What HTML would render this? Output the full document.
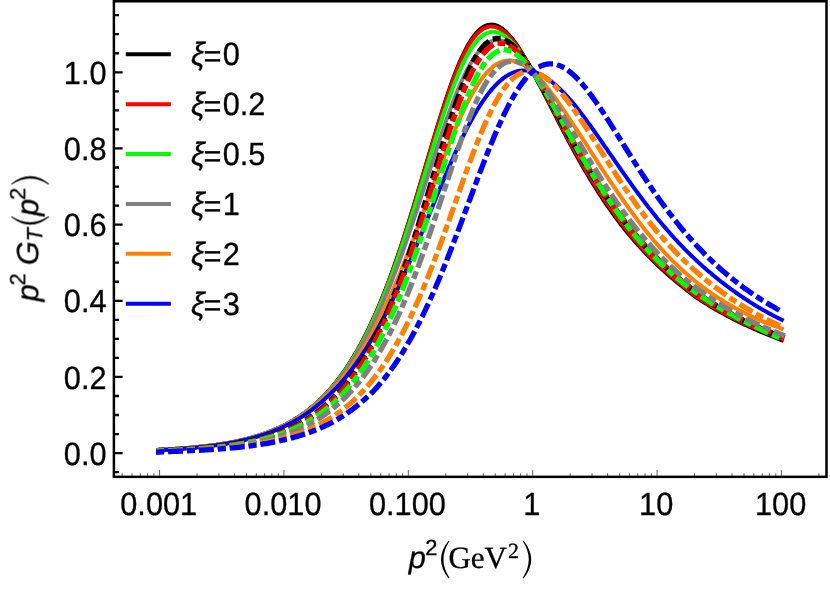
<!DOCTYPE html>
<html><head><meta charset="utf-8"><title>plot</title>
<style>html,body{margin:0;padding:0;background:#fff}svg{display:block}text{font-family:"Liberation Sans",sans-serif;fill:#000;stroke:#000;stroke-width:0.3px}.se{font-family:"Liberation Serif",serif}</style></head>
<body>
<svg width="830" height="589" viewBox="0 0 830 589">
<rect x="0" y="0" width="830" height="589" fill="#fff"/>
<g fill="none" stroke-linejoin="round">
<path d="M157.20 449.95 158.45 449.88 159.70 449.82 160.95 449.75 162.20 449.68 163.45 449.61 164.70 449.53 165.95 449.46 167.20 449.38 168.45 449.31 169.70 449.23 170.95 449.15 172.20 449.07 173.45 448.99 174.70 448.91 175.95 448.82 177.20 448.74 178.45 448.65 179.70 448.56 180.95 448.47 182.20 448.38 183.45 448.28 184.70 448.18 185.95 448.09 187.20 447.98 188.45 447.88 189.70 447.77 190.95 447.67 192.20 447.56 193.45 447.44 194.70 447.33 195.95 447.21 197.20 447.09 198.45 446.96 199.70 446.84 200.95 446.71 202.20 446.58 203.45 446.44 204.70 446.30 205.95 446.16 207.20 446.01 208.45 445.86 209.70 445.71 210.95 445.55 212.20 445.39 213.45 445.23 214.70 445.06 215.95 444.88 217.20 444.71 218.45 444.53 219.70 444.34 220.95 444.15 222.20 443.95 223.45 443.75 224.70 443.55 225.95 443.34 227.20 443.12 228.45 442.90 229.70 442.68 230.95 442.45 232.20 442.21 233.45 441.97 234.70 441.72 235.95 441.46 237.20 441.20 238.45 440.93 239.70 440.66 240.95 440.37 242.20 440.09 243.45 439.79 244.70 439.49 245.95 439.18 247.20 438.86 248.45 438.53 249.70 438.20 250.95 437.86 252.20 437.51 253.45 437.15 254.70 436.78 255.95 436.41 257.20 436.03 258.45 435.64 259.70 435.24 260.95 434.84 262.20 434.42 263.45 434.00 264.70 433.56 265.95 433.12 267.20 432.66 268.45 432.20 269.70 431.72 270.95 431.24 272.20 430.74 273.45 430.23 274.70 429.71 275.95 429.18 277.20 428.63 278.45 428.07 279.70 427.50 280.95 426.92 282.20 426.32 283.45 425.71 284.70 425.08 285.95 424.44 287.20 423.78 288.45 423.10 289.70 422.41 290.95 421.71 292.20 420.98 293.45 420.24 294.70 419.48 295.95 418.70 297.20 417.91 298.45 417.09 299.70 416.26 300.95 415.41 302.20 414.54 303.45 413.66 304.70 412.75 305.95 411.82 307.20 410.88 308.45 409.91 309.70 408.92 310.95 407.91 312.20 406.88 313.45 405.82 314.70 404.75 315.95 403.64 317.20 402.52 318.45 401.37 319.70 400.19 320.95 398.98 322.20 397.75 323.45 396.49 324.70 395.20 325.95 393.88 327.20 392.53 328.45 391.15 329.70 389.74 330.95 388.30 332.20 386.84 333.45 385.34 334.70 383.81 335.95 382.25 337.20 380.66 338.45 379.04 339.70 377.38 340.95 375.69 342.20 373.96 343.45 372.20 344.70 370.41 345.95 368.58 347.20 366.71 348.45 364.81 349.70 362.87 350.95 360.89 352.20 358.88 353.45 356.82 354.70 354.73 355.95 352.59 357.20 350.42 358.45 348.20 359.70 345.95 360.95 343.65 362.20 341.31 363.45 338.93 364.70 336.50 365.95 334.03 367.20 331.52 368.45 328.97 369.70 326.37 370.95 323.72 372.20 321.03 373.45 318.30 374.70 315.52 375.95 312.69 377.20 309.82 378.45 306.91 379.70 303.95 380.95 300.94 382.20 297.88 383.45 294.78 384.70 291.64 385.95 288.44 387.20 285.19 388.45 281.90 389.70 278.56 390.95 275.16 392.20 271.72 393.45 268.23 394.70 264.70 395.95 261.12 397.20 257.49 398.45 253.82 399.70 250.10 400.95 246.34 402.20 242.54 403.45 238.70 404.70 234.82 405.95 230.91 407.20 226.96 408.45 222.97 409.70 218.96 410.95 214.91 412.20 210.84 413.45 206.75 414.70 202.63 415.95 198.49 417.20 194.34 418.45 190.17 419.70 185.98 420.95 181.77 422.20 177.56 423.45 173.33 424.70 169.10 425.95 164.86 427.20 160.63 428.45 156.39 429.70 152.16 430.95 147.95 432.20 143.74 433.45 139.55 434.70 135.39 435.95 131.24 437.20 127.13 438.45 123.04 439.70 118.99 440.95 114.98 442.20 111.02 443.45 107.10 444.70 103.23 445.95 99.41 447.20 95.65 448.45 91.96 449.70 88.33 450.95 84.77 452.20 81.29 453.45 77.88 454.70 74.56 455.95 71.32 457.20 68.17 458.45 65.11 459.70 62.15 460.95 59.29 462.20 56.52 463.45 53.87 464.70 51.31 465.95 48.87 467.20 46.54 468.45 44.32 469.70 42.21 470.95 40.22 472.20 38.34 473.45 36.59 474.70 34.95 475.95 33.44 477.20 32.04 478.45 30.77 479.70 29.62 480.95 28.58 482.20 27.67 483.45 26.88 484.70 26.21 485.95 25.66 487.20 25.23 488.45 24.91 489.70 24.71 490.95 24.62 492.20 24.65 493.45 24.79 494.70 25.04 495.95 25.39 497.20 25.85 498.45 26.42 499.70 27.09 500.95 27.85 502.20 28.71 503.45 29.67 504.70 30.72 505.95 31.85 507.20 33.07 508.45 34.38 509.70 35.76 510.95 37.23 512.20 38.76 513.45 40.37 514.70 42.04 515.95 43.78 517.20 45.59 518.45 47.45 519.70 49.36 520.95 51.33 522.20 53.35 523.45 55.42 524.70 57.53 525.95 59.68 527.20 61.87 528.45 64.09 529.70 66.35 530.95 68.64 532.20 70.95 533.45 73.28 534.70 75.63 535.95 77.99 537.20 80.36 538.45 82.73 539.70 85.11 540.95 87.50 542.20 89.90 543.45 92.30 544.70 94.71 545.95 97.12 547.20 99.54 548.45 101.97 549.70 104.41 550.95 106.85 552.20 109.30 553.45 111.75 554.70 114.21 555.95 116.66 557.20 119.10 558.45 121.54 559.70 123.97 560.95 126.40 562.20 128.81 563.45 131.22 564.70 133.62 565.95 136.00 567.20 138.38 568.45 140.74 569.70 143.08 570.95 145.42 572.20 147.74 573.45 150.04 574.70 152.33 575.95 154.60 577.20 156.85 578.45 159.08 579.70 161.30 580.95 163.50 582.20 165.68 583.45 167.84 584.70 169.98 585.95 172.11 587.20 174.22 588.45 176.31 589.70 178.38 590.95 180.44 592.20 182.48 593.45 184.50 594.70 186.50 595.95 188.49 597.20 190.46 598.45 192.41 599.70 194.34 600.95 196.26 602.20 198.16 603.45 200.05 604.70 201.91 605.95 203.76 607.20 205.58 608.45 207.39 609.70 209.18 610.95 210.94 612.20 212.69 613.45 214.42 614.70 216.13 615.95 217.83 617.20 219.50 618.45 221.16 619.70 222.80 620.95 224.42 622.20 226.02 623.45 227.61 624.70 229.18 625.95 230.73 627.20 232.27 628.45 233.79 629.70 235.30 630.95 236.78 632.20 238.26 633.45 239.71 634.70 241.16 635.95 242.58 637.20 244.00 638.45 245.40 639.70 246.78 640.95 248.15 642.20 249.51 643.45 250.85 644.70 252.18 645.95 253.50 647.20 254.80 648.45 256.09 649.70 257.36 650.95 258.63 652.20 259.88 653.45 261.12 654.70 262.34 655.95 263.56 657.20 264.76 658.45 265.95 659.70 267.12 660.95 268.29 662.20 269.44 663.45 270.59 664.70 271.72 665.95 272.84 667.20 273.95 668.45 275.05 669.70 276.14 670.95 277.21 672.20 278.28 673.45 279.34 674.70 280.39 675.95 281.42 677.20 282.45 678.45 283.47 679.70 284.48 680.95 285.47 682.20 286.46 683.45 287.44 684.70 288.42 685.95 289.38 687.20 290.33 688.45 291.29 689.70 292.29 690.95 293.33 692.20 294.36 693.45 295.35 694.70 296.28 695.95 297.15 697.20 297.99 698.45 298.82 699.70 299.65 700.95 300.46 702.20 301.27 703.45 302.07 704.70 302.86 705.95 303.65 707.20 304.42 708.45 305.19 709.70 305.95 710.95 306.71 712.20 307.45 713.45 308.19 714.70 308.92 715.95 309.65 717.20 310.37 718.45 311.08 719.70 311.78 720.95 312.48 722.20 313.17 723.45 313.86 724.70 314.54 725.95 315.21 727.20 315.88 728.45 316.54 729.70 317.19 730.95 317.84 732.20 318.49 733.45 319.13 734.70 319.76 735.95 320.39 737.20 321.01 738.45 321.62 739.70 322.23 740.95 322.84 742.20 323.44 743.45 324.04 744.70 324.63 745.95 325.21 747.20 325.80 748.45 326.37 749.70 326.95 750.95 327.51 752.20 328.07 753.45 328.63 754.70 329.18 755.95 329.73 757.20 330.27 758.45 330.81 759.70 331.34 760.95 331.87 762.20 332.39 763.45 332.91 764.70 333.42 765.95 333.93 767.20 334.44 768.45 334.94 769.70 335.44 770.95 335.94 772.20 336.43 773.45 336.92 774.70 337.41 775.95 337.89 777.20 338.37 778.45 338.85 779.70 339.33 780.95 339.80 782.20 340.27 783.45 340.74 783.60 340.80" stroke="#000000" stroke-width="4"/>
<path d="M157.20 449.95 158.45 449.88 159.70 449.82 160.95 449.75 162.20 449.68 163.45 449.61 164.70 449.54 165.95 449.47 167.20 449.40 168.45 449.32 169.70 449.25 170.95 449.17 172.20 449.09 173.45 449.01 174.70 448.93 175.95 448.84 177.20 448.76 178.45 448.67 179.70 448.58 180.95 448.49 182.20 448.40 183.45 448.30 184.70 448.21 185.95 448.11 187.20 448.01 188.45 447.90 189.70 447.80 190.95 447.69 192.20 447.58 193.45 447.47 194.70 447.35 195.95 447.23 197.20 447.11 198.45 446.99 199.70 446.86 200.95 446.73 202.20 446.59 203.45 446.46 204.70 446.32 205.95 446.18 207.20 446.03 208.45 445.88 209.70 445.72 210.95 445.57 212.20 445.41 213.45 445.24 214.70 445.07 215.95 444.90 217.20 444.72 218.45 444.54 219.70 444.35 220.95 444.16 222.20 443.97 223.45 443.77 224.70 443.56 225.95 443.35 227.20 443.13 228.45 442.91 229.70 442.69 230.95 442.46 232.20 442.22 233.45 441.98 234.70 441.73 235.95 441.47 237.20 441.21 238.45 440.94 239.70 440.67 240.95 440.39 242.20 440.10 243.45 439.80 244.70 439.50 245.95 439.19 247.20 438.88 248.45 438.55 249.70 438.22 250.95 437.88 252.20 437.53 253.45 437.17 254.70 436.81 255.95 436.44 257.20 436.05 258.45 435.66 259.70 435.27 260.95 434.86 262.20 434.44 263.45 434.02 264.70 433.58 265.95 433.13 267.20 432.68 268.45 432.21 269.70 431.73 270.95 431.25 272.20 430.75 273.45 430.24 274.70 429.72 275.95 429.18 277.20 428.63 278.45 428.08 279.70 427.50 280.95 426.92 282.20 426.32 283.45 425.71 284.70 425.08 285.95 424.44 287.20 423.78 288.45 423.11 289.70 422.42 290.95 421.72 292.20 421.00 293.45 420.27 294.70 419.51 295.95 418.74 297.20 417.96 298.45 417.15 299.70 416.33 300.95 415.49 302.20 414.63 303.45 413.75 304.70 412.85 305.95 411.93 307.20 410.99 308.45 410.03 309.70 409.05 310.95 408.05 312.20 407.02 313.45 405.98 314.70 404.91 315.95 403.82 317.20 402.70 318.45 401.55 319.70 400.39 320.95 399.19 322.20 397.97 323.45 396.72 324.70 395.44 325.95 394.13 327.20 392.79 328.45 391.43 329.70 390.04 330.95 388.61 332.20 387.16 333.45 385.67 334.70 384.16 335.95 382.61 337.20 381.04 338.45 379.42 339.70 377.78 340.95 376.10 342.20 374.39 343.45 372.64 344.70 370.86 345.95 369.04 347.20 367.19 348.45 365.29 349.70 363.36 350.95 361.40 352.20 359.39 353.45 357.35 354.70 355.26 355.95 353.13 357.20 350.97 358.45 348.76 359.70 346.51 360.95 344.22 362.20 341.89 363.45 339.51 364.70 337.09 365.95 334.62 367.20 332.11 368.45 329.56 369.70 326.96 370.95 324.32 372.20 321.63 373.45 318.89 374.70 316.11 375.95 313.28 377.20 310.40 378.45 307.48 379.70 304.51 380.95 301.49 382.20 298.43 383.45 295.32 384.70 292.16 385.95 288.95 387.20 285.70 388.45 282.40 389.70 279.05 390.95 275.65 392.20 272.20 393.45 268.71 394.70 265.18 395.95 261.60 397.20 257.97 398.45 254.30 399.70 250.59 400.95 246.84 402.20 243.05 403.45 239.21 404.70 235.34 405.95 231.44 407.20 227.49 408.45 223.52 409.70 219.51 410.95 215.48 412.20 211.41 413.45 207.33 414.70 203.21 415.95 199.08 417.20 194.93 418.45 190.76 419.70 186.58 420.95 182.39 422.20 178.18 423.45 173.97 424.70 169.75 425.95 165.53 427.20 161.31 428.45 157.10 429.70 152.90 430.95 148.70 432.20 144.52 433.45 140.36 434.70 136.22 435.95 132.10 437.20 128.02 438.45 123.96 439.70 119.94 440.95 115.96 442.20 112.03 443.45 108.14 444.70 104.30 445.95 100.51 447.20 96.79 448.45 93.12 449.70 89.52 450.95 85.99 452.20 82.54 453.45 79.16 454.70 75.87 455.95 72.66 457.20 69.54 458.45 66.52 459.70 63.59 460.95 60.76 462.20 58.02 463.45 55.40 464.70 52.88 465.95 50.46 467.20 48.16 468.45 45.97 469.70 43.89 470.95 41.93 472.20 40.09 473.45 38.36 474.70 36.74 475.95 35.25 477.20 33.87 478.45 32.62 479.70 31.48 480.95 30.46 482.20 29.56 483.45 28.78 484.70 28.11 485.95 27.56 487.20 27.13 488.45 26.81 489.70 26.60 490.95 26.50 492.20 26.52 493.45 26.64 494.70 26.86 495.95 27.20 497.20 27.63 498.45 28.16 499.70 28.80 500.95 29.52 502.20 30.34 503.45 31.25 504.70 32.25 505.95 33.34 507.20 34.51 508.45 35.75 509.70 37.08 510.95 38.48 512.20 39.95 513.45 41.49 514.70 43.10 515.95 44.77 517.20 46.50 518.45 48.29 519.70 50.13 520.95 52.02 522.20 53.96 523.45 55.95 524.70 57.98 525.95 60.06 527.20 62.17 528.45 64.31 529.70 66.49 530.95 68.70 532.20 70.93 533.45 73.19 534.70 75.46 535.95 77.75 537.20 80.04 538.45 82.34 539.70 84.65 540.95 86.97 542.20 89.30 543.45 91.63 544.70 93.97 545.95 96.32 547.20 98.68 548.45 101.04 549.70 103.41 550.95 105.79 552.20 108.18 553.45 110.58 554.70 112.97 555.95 115.37 557.20 117.76 558.45 120.14 559.70 122.52 560.95 124.90 562.20 127.27 563.45 129.63 564.70 131.98 565.95 134.33 567.20 136.66 568.45 138.98 569.70 141.29 570.95 143.59 572.20 145.88 573.45 148.15 574.70 150.41 575.95 152.65 577.20 154.88 578.45 157.09 579.70 159.29 580.95 161.46 582.20 163.63 583.45 165.77 584.70 167.90 585.95 170.02 587.20 172.11 588.45 174.19 589.70 176.26 590.95 178.31 592.20 180.34 593.45 182.36 594.70 184.36 595.95 186.34 597.20 188.31 598.45 190.26 599.70 192.20 600.95 194.12 602.20 196.02 603.45 197.91 604.70 199.78 605.95 201.63 607.20 203.46 608.45 205.28 609.70 207.08 610.95 208.85 612.20 210.61 613.45 212.35 614.70 214.08 615.95 215.78 617.20 217.47 618.45 219.14 619.70 220.80 620.95 222.43 622.20 224.05 623.45 225.66 624.70 227.24 625.95 228.81 627.20 230.37 628.45 231.91 629.70 233.43 630.95 234.93 632.20 236.43 633.45 237.90 634.70 239.36 635.95 240.81 637.20 242.24 638.45 243.66 639.70 245.06 640.95 246.45 642.20 247.83 643.45 249.19 644.70 250.54 645.95 251.87 647.20 253.19 648.45 254.50 649.70 255.80 650.95 257.08 652.20 258.35 653.45 259.60 654.70 260.85 655.95 262.08 657.20 263.30 658.45 264.50 659.70 265.70 660.95 266.88 662.20 268.05 663.45 269.21 664.70 270.36 665.95 271.50 667.20 272.62 668.45 273.74 669.70 274.84 670.95 275.93 672.20 277.01 673.45 278.09 674.70 279.15 675.95 280.20 677.20 281.24 678.45 282.27 679.70 283.29 680.95 284.30 682.20 285.30 683.45 286.29 684.70 287.27 685.95 288.24 687.20 289.21 688.45 290.17 689.70 291.19 690.95 292.23 692.20 293.27 693.45 294.27 694.70 295.21 695.95 296.08 697.20 296.93 698.45 297.77 699.70 298.60 700.95 299.42 702.20 300.23 703.45 301.04 704.70 301.83 705.95 302.62 707.20 303.40 708.45 304.17 709.70 304.93 710.95 305.69 712.20 306.44 713.45 307.18 714.70 307.91 715.95 308.64 717.20 309.35 718.45 310.07 719.70 310.77 720.95 311.47 722.20 312.16 723.45 312.84 724.70 313.52 725.95 314.19 727.20 314.85 728.45 315.51 729.70 316.16 730.95 316.81 732.20 317.45 733.45 318.08 734.70 318.71 735.95 319.33 737.20 319.95 738.45 320.56 739.70 321.16 740.95 321.76 742.20 322.36 743.45 322.95 744.70 323.53 745.95 324.11 747.20 324.68 748.45 325.25 749.70 325.81 750.95 326.37 752.20 326.93 753.45 327.47 754.70 328.01 755.95 328.55 757.20 329.08 758.45 329.61 759.70 330.13 760.95 330.65 762.20 331.16 763.45 331.67 764.70 332.17 765.95 332.67 767.20 333.16 768.45 333.65 769.70 334.14 770.95 334.63 772.20 335.11 773.45 335.58 774.70 336.06 775.95 336.53 777.20 336.99 778.45 337.46 779.70 337.92 780.95 338.38 782.20 338.84 783.45 339.29 783.60 339.35" stroke="#ff0000" stroke-width="4"/>
<path d="M157.20 449.95 158.45 449.88 159.70 449.82 160.95 449.75 162.20 449.68 163.45 449.61 164.70 449.54 165.95 449.47 167.20 449.39 168.45 449.32 169.70 449.24 170.95 449.17 172.20 449.09 173.45 449.01 174.70 448.92 175.95 448.84 177.20 448.76 178.45 448.67 179.70 448.58 180.95 448.49 182.20 448.39 183.45 448.30 184.70 448.20 185.95 448.10 187.20 448.00 188.45 447.90 189.70 447.79 190.95 447.68 192.20 447.57 193.45 447.46 194.70 447.34 195.95 447.22 197.20 447.10 198.45 446.98 199.70 446.85 200.95 446.72 202.20 446.59 203.45 446.45 204.70 446.31 205.95 446.17 207.20 446.02 208.45 445.87 209.70 445.71 210.95 445.56 212.20 445.40 213.45 445.23 214.70 445.06 215.95 444.89 217.20 444.71 218.45 444.53 219.70 444.34 220.95 444.15 222.20 443.95 223.45 443.75 224.70 443.55 225.95 443.33 227.20 443.12 228.45 442.90 229.70 442.67 230.95 442.44 232.20 442.20 233.45 441.96 234.70 441.71 235.95 441.45 237.20 441.19 238.45 440.92 239.70 440.65 240.95 440.37 242.20 440.08 243.45 439.78 244.70 439.48 245.95 439.17 247.20 438.85 248.45 438.53 249.70 438.19 250.95 437.85 252.20 437.50 253.45 437.15 254.70 436.78 255.95 436.41 257.20 436.03 258.45 435.64 259.70 435.24 260.95 434.83 262.20 434.41 263.45 433.99 264.70 433.55 265.95 433.10 267.20 432.65 268.45 432.18 269.70 431.70 270.95 431.22 272.20 430.72 273.45 430.21 274.70 429.69 275.95 429.15 277.20 428.61 278.45 428.05 279.70 427.48 280.95 426.89 282.20 426.29 283.45 425.68 284.70 425.06 285.95 424.42 287.20 423.76 288.45 423.09 289.70 422.41 290.95 421.71 292.20 420.99 293.45 420.26 294.70 419.51 295.95 418.74 297.20 417.96 298.45 417.16 299.70 416.34 300.95 415.50 302.20 414.64 303.45 413.76 304.70 412.87 305.95 411.95 307.20 411.01 308.45 410.06 309.70 409.08 310.95 408.08 312.20 407.06 313.45 406.01 314.70 404.95 315.95 403.86 317.20 402.74 318.45 401.61 319.70 400.44 320.95 399.25 322.20 398.04 323.45 396.80 324.70 395.53 325.95 394.23 327.20 392.91 328.45 391.55 329.70 390.17 330.95 388.76 332.20 387.32 333.45 385.85 334.70 384.35 335.95 382.82 337.20 381.26 338.45 379.67 339.70 378.04 340.95 376.38 342.20 374.69 343.45 372.96 344.70 371.20 345.95 369.40 347.20 367.57 348.45 365.70 349.70 363.80 350.95 361.86 352.20 359.88 353.45 357.86 354.70 355.80 355.95 353.71 357.20 351.57 358.45 349.39 359.70 347.18 360.95 344.92 362.20 342.62 363.45 340.28 364.70 337.90 365.95 335.47 367.20 333.00 368.45 330.49 369.70 327.93 370.95 325.33 372.20 322.69 373.45 320.00 374.70 317.26 375.95 314.48 377.20 311.66 378.45 308.79 379.70 305.88 380.95 302.92 382.20 299.91 383.45 296.86 384.70 293.77 385.95 290.62 387.20 287.43 388.45 284.20 389.70 280.92 390.95 277.59 392.20 274.21 393.45 270.79 394.70 267.33 395.95 263.82 397.20 260.27 398.45 256.68 399.70 253.04 400.95 249.37 402.20 245.66 403.45 241.91 404.70 238.13 405.95 234.31 407.20 230.46 408.45 226.57 409.70 222.66 410.95 218.73 412.20 214.76 413.45 210.78 414.70 206.78 415.95 202.75 417.20 198.72 418.45 194.67 419.70 190.61 420.95 186.54 422.20 182.46 423.45 178.39 424.70 174.30 425.95 170.22 427.20 166.14 428.45 162.07 429.70 158.00 430.95 153.95 432.20 149.91 433.45 145.89 434.70 141.88 435.95 137.90 437.20 133.94 438.45 130.01 439.70 126.12 440.95 122.26 442.20 118.43 443.45 114.65 444.70 110.92 445.95 107.23 447.20 103.59 448.45 100.01 449.70 96.49 450.95 93.03 452.20 89.64 453.45 86.32 454.70 83.07 455.95 79.91 457.20 76.82 458.45 73.82 459.70 70.90 460.95 68.08 462.20 65.35 463.45 62.71 464.70 60.17 465.95 57.74 467.20 55.40 468.45 53.18 469.70 51.05 470.95 49.04 472.20 47.13 473.45 45.34 474.70 43.66 475.95 42.08 477.20 40.62 478.45 39.28 479.70 38.05 480.95 36.93 482.20 35.92 483.45 35.03 484.70 34.24 485.95 33.57 487.20 33.02 488.45 32.57 489.70 32.23 490.95 31.99 492.20 31.87 493.45 31.85 494.70 31.93 495.95 32.11 497.20 32.39 498.45 32.77 499.70 33.24 500.95 33.81 502.20 34.47 503.45 35.21 504.70 36.05 505.95 36.96 507.20 37.96 508.45 39.04 509.70 40.19 510.95 41.42 512.20 42.72 513.45 44.08 514.70 45.52 515.95 47.01 517.20 48.57 518.45 50.18 519.70 51.85 520.95 53.57 522.20 55.34 523.45 57.15 524.70 59.01 525.95 60.92 527.20 62.86 528.45 64.84 529.70 66.85 530.95 68.90 532.20 70.97 533.45 73.07 534.70 75.19 535.95 77.32 537.20 79.46 538.45 81.61 539.70 83.77 540.95 85.95 542.20 88.13 543.45 90.32 544.70 92.52 545.95 94.73 547.20 96.96 548.45 99.19 549.70 101.43 550.95 103.68 552.20 105.94 553.45 108.21 554.70 110.48 555.95 112.76 557.20 115.03 558.45 117.30 559.70 119.57 560.95 121.84 562.20 124.11 563.45 126.36 564.70 128.62 565.95 130.87 567.20 133.11 568.45 135.34 569.70 137.56 570.95 139.78 572.20 141.98 573.45 144.17 574.70 146.36 575.95 148.53 577.20 150.68 578.45 152.83 579.70 154.96 580.95 157.07 582.20 159.18 583.45 161.27 584.70 163.34 585.95 165.41 587.20 167.46 588.45 169.49 589.70 171.51 590.95 173.52 592.20 175.51 593.45 177.50 594.70 179.46 595.95 181.42 597.20 183.35 598.45 185.28 599.70 187.19 600.95 189.09 602.20 190.98 603.45 192.85 604.70 194.70 605.95 196.54 607.20 198.36 608.45 200.17 609.70 201.96 610.95 203.73 612.20 205.49 613.45 207.23 614.70 208.95 615.95 210.66 617.20 212.35 618.45 214.02 619.70 215.68 620.95 217.33 622.20 218.96 623.45 220.57 624.70 222.17 625.95 223.75 627.20 225.32 628.45 226.88 629.70 228.42 630.95 229.94 632.20 231.45 633.45 232.95 634.70 234.43 635.95 235.90 637.20 237.35 638.45 238.79 639.70 240.22 640.95 241.64 642.20 243.04 643.45 244.43 644.70 245.80 645.95 247.16 647.20 248.51 648.45 249.85 649.70 251.18 650.95 252.49 652.20 253.79 653.45 255.08 654.70 256.35 655.95 257.61 657.20 258.87 658.45 260.10 659.70 261.33 660.95 262.55 662.20 263.75 663.45 264.95 664.70 266.13 665.95 267.30 667.20 268.46 668.45 269.61 669.70 270.75 670.95 271.87 672.20 272.99 673.45 274.09 674.70 275.19 675.95 276.28 677.20 277.35 678.45 278.42 679.70 279.47 680.95 280.52 682.20 281.55 683.45 282.58 684.70 283.59 685.95 284.60 687.20 285.60 688.45 286.60 689.70 287.65 690.95 288.73 692.20 289.80 693.45 290.84 694.70 291.82 695.95 292.72 697.20 293.60 698.45 294.47 699.70 295.33 700.95 296.19 702.20 297.03 703.45 297.87 704.70 298.70 705.95 299.52 707.20 300.33 708.45 301.13 709.70 301.92 710.95 302.71 712.20 303.49 713.45 304.26 714.70 305.02 715.95 305.78 717.20 306.53 718.45 307.27 719.70 308.00 720.95 308.73 722.20 309.45 723.45 310.16 724.70 310.87 725.95 311.56 727.20 312.26 728.45 312.94 729.70 313.62 730.95 314.30 732.20 314.96 733.45 315.62 734.70 316.28 735.95 316.93 737.20 317.57 738.45 318.21 739.70 318.84 740.95 319.46 742.20 320.08 743.45 320.70 744.70 321.31 745.95 321.91 747.20 322.51 748.45 323.10 749.70 323.69 750.95 324.27 752.20 324.85 753.45 325.42 754.70 325.99 755.95 326.55 757.20 327.10 758.45 327.65 759.70 328.20 760.95 328.74 762.20 329.27 763.45 329.80 764.70 330.33 765.95 330.85 767.20 331.37 768.45 331.88 769.70 332.39 770.95 332.89 772.20 333.39 773.45 333.89 774.70 334.39 775.95 334.88 777.20 335.37 778.45 335.85 779.70 336.34 780.95 336.82 782.20 337.29 783.45 337.77 783.60 337.83" stroke="#00ff00" stroke-width="4"/>
<path d="M157.20 449.95 158.45 449.88 159.70 449.82 160.95 449.75 162.20 449.68 163.45 449.61 164.70 449.54 165.95 449.47 167.20 449.39 168.45 449.32 169.70 449.24 170.95 449.16 172.20 449.08 173.45 449.00 174.70 448.92 175.95 448.84 177.20 448.75 178.45 448.66 179.70 448.57 180.95 448.48 182.20 448.39 183.45 448.29 184.70 448.20 185.95 448.10 187.20 448.00 188.45 447.89 189.70 447.79 190.95 447.68 192.20 447.57 193.45 447.45 194.70 447.34 195.95 447.22 197.20 447.09 198.45 446.97 199.70 446.84 200.95 446.71 202.20 446.58 203.45 446.44 204.70 446.30 205.95 446.16 207.20 446.01 208.45 445.86 209.70 445.70 210.95 445.55 212.20 445.38 213.45 445.22 214.70 445.05 215.95 444.87 217.20 444.70 218.45 444.51 219.70 444.33 220.95 444.13 222.20 443.94 223.45 443.74 224.70 443.53 225.95 443.32 227.20 443.10 228.45 442.88 229.70 442.66 230.95 442.42 232.20 442.19 233.45 441.94 234.70 441.69 235.95 441.44 237.20 441.17 238.45 440.91 239.70 440.63 240.95 440.35 242.20 440.06 243.45 439.77 244.70 439.46 245.95 439.15 247.20 438.84 248.45 438.51 249.70 438.18 250.95 437.84 252.20 437.49 253.45 437.13 254.70 436.77 255.95 436.40 257.20 436.01 258.45 435.62 259.70 435.23 260.95 434.82 262.20 434.40 263.45 433.98 264.70 433.54 265.95 433.10 267.20 432.64 268.45 432.18 269.70 431.70 270.95 431.21 272.20 430.72 273.45 430.21 274.70 429.69 275.95 429.16 277.20 428.61 278.45 428.06 279.70 427.49 280.95 426.90 282.20 426.31 283.45 425.70 284.70 425.08 285.95 424.45 287.20 423.80 288.45 423.13 289.70 422.45 290.95 421.76 292.20 421.05 293.45 420.32 294.70 419.58 295.95 418.82 297.20 418.04 298.45 417.25 299.70 416.44 300.95 415.61 302.20 414.76 303.45 413.90 304.70 413.01 305.95 412.11 307.20 411.19 308.45 410.24 309.70 409.28 310.95 408.30 312.20 407.29 313.45 406.27 314.70 405.22 315.95 404.15 317.20 403.06 318.45 401.94 319.70 400.80 320.95 399.64 322.20 398.45 323.45 397.23 324.70 395.99 325.95 394.72 327.20 393.43 328.45 392.11 329.70 390.76 330.95 389.39 332.20 387.98 333.45 386.55 334.70 385.09 335.95 383.61 337.20 382.09 338.45 380.54 339.70 378.97 340.95 377.36 342.20 375.72 343.45 374.05 344.70 372.34 345.95 370.61 347.20 368.84 348.45 367.04 349.70 365.20 350.95 363.33 352.20 361.42 353.45 359.48 354.70 357.51 355.95 355.49 357.20 353.44 358.45 351.36 359.70 349.24 360.95 347.08 362.20 344.88 363.45 342.64 364.70 340.36 365.95 338.05 367.20 335.70 368.45 333.30 369.70 330.87 370.95 328.40 372.20 325.88 373.45 323.33 374.70 320.74 375.95 318.10 377.20 315.43 378.45 312.71 379.70 309.95 380.95 307.15 382.20 304.31 383.45 301.43 384.70 298.51 385.95 295.55 387.20 292.54 388.45 289.49 389.70 286.40 390.95 283.27 392.20 280.10 393.45 276.88 394.70 273.63 395.95 270.33 397.20 266.99 398.45 263.62 399.70 260.20 400.95 256.75 402.20 253.27 403.45 249.74 404.70 246.18 405.95 242.59 407.20 238.97 408.45 235.32 409.70 231.64 410.95 227.93 412.20 224.19 413.45 220.44 414.70 216.66 415.95 212.86 417.20 209.04 418.45 205.21 419.70 201.37 420.95 197.51 422.20 193.65 423.45 189.77 424.70 185.89 425.95 182.00 427.20 178.11 428.45 174.22 429.70 170.33 430.95 166.45 432.20 162.58 433.45 158.71 434.70 154.86 435.95 151.03 437.20 147.22 438.45 143.44 439.70 139.68 440.95 135.95 442.20 132.25 443.45 128.59 444.70 124.97 445.95 121.40 447.20 117.86 448.45 114.38 449.70 110.95 450.95 107.57 452.20 104.25 453.45 100.99 454.70 97.78 455.95 94.64 457.20 91.57 458.45 88.57 459.70 85.63 460.95 82.78 462.20 80.00 463.45 77.29 464.70 74.67 465.95 72.14 467.20 69.69 468.45 67.33 469.70 65.06 470.95 62.88 472.20 60.79 473.45 58.80 474.70 56.91 475.95 55.11 477.20 53.42 478.45 51.82 479.70 50.33 480.95 48.93 482.20 47.64 483.45 46.45 484.70 45.37 485.95 44.39 487.20 43.51 488.45 42.73 489.70 42.06 490.95 41.49 492.20 41.02 493.45 40.65 494.70 40.38 495.95 40.21 497.20 40.14 498.45 40.16 499.70 40.28 500.95 40.50 502.20 40.80 503.45 41.20 504.70 41.69 505.95 42.26 507.20 42.92 508.45 43.67 509.70 44.49 510.95 45.39 512.20 46.38 513.45 47.43 514.70 48.56 515.95 49.76 517.20 51.02 518.45 52.36 519.70 53.75 520.95 55.21 522.20 56.72 523.45 58.29 524.70 59.92 525.95 61.59 527.20 63.32 528.45 65.09 529.70 66.90 530.95 68.76 532.20 70.66 533.45 72.59 534.70 74.55 535.95 76.54 537.20 78.55 538.45 80.58 539.70 82.64 540.95 84.71 542.20 86.81 543.45 88.91 544.70 91.04 545.95 93.18 547.20 95.34 548.45 97.51 549.70 99.69 550.95 101.89 552.20 104.10 553.45 106.32 554.70 108.54 555.95 110.77 557.20 113.00 558.45 115.24 559.70 117.47 560.95 119.70 562.20 121.93 563.45 124.16 564.70 126.39 565.95 128.62 567.20 130.84 568.45 133.05 569.70 135.26 570.95 137.47 572.20 139.67 573.45 141.86 574.70 144.04 575.95 146.22 577.20 148.38 578.45 150.53 579.70 152.67 580.95 154.79 582.20 156.91 583.45 159.01 584.70 161.10 585.95 163.18 587.20 165.24 588.45 167.29 589.70 169.33 590.95 171.36 592.20 173.37 593.45 175.37 594.70 177.35 595.95 179.33 597.20 181.28 598.45 183.23 599.70 185.16 600.95 187.08 602.20 188.98 603.45 190.87 604.70 192.75 605.95 194.61 607.20 196.45 608.45 198.27 609.70 200.08 610.95 201.87 612.20 203.64 613.45 205.40 614.70 207.14 615.95 208.87 617.20 210.57 618.45 212.27 619.70 213.94 620.95 215.60 622.20 217.25 623.45 218.87 624.70 220.49 625.95 222.08 627.20 223.67 628.45 225.23 629.70 226.78 630.95 228.32 632.20 229.84 633.45 231.35 634.70 232.84 635.95 234.32 637.20 235.79 638.45 237.24 639.70 238.68 640.95 240.10 642.20 241.51 643.45 242.91 644.70 244.29 645.95 245.66 647.20 247.02 648.45 248.36 649.70 249.70 650.95 251.01 652.20 252.32 653.45 253.62 654.70 254.90 655.95 256.17 657.20 257.42 658.45 258.67 659.70 259.90 660.95 261.13 662.20 262.34 663.45 263.53 664.70 264.72 665.95 265.90 667.20 267.06 668.45 268.22 669.70 269.36 670.95 270.49 672.20 271.61 673.45 272.72 674.70 273.82 675.95 274.91 677.20 275.99 678.45 277.06 679.70 278.12 680.95 279.17 682.20 280.21 683.45 281.24 684.70 282.27 685.95 283.28 687.20 284.28 688.45 285.29 689.70 286.34 690.95 287.42 692.20 288.51 693.45 289.55 694.70 290.53 695.95 291.44 697.20 292.32 698.45 293.20 699.70 294.07 700.95 294.93 702.20 295.78 703.45 296.62 704.70 297.45 705.95 298.28 707.20 299.09 708.45 299.90 709.70 300.70 710.95 301.50 712.20 302.28 713.45 303.06 714.70 303.83 715.95 304.59 717.20 305.34 718.45 306.09 719.70 306.83 720.95 307.56 722.20 308.29 723.45 309.01 724.70 309.72 725.95 310.43 727.20 311.13 728.45 311.82 729.70 312.51 730.95 313.19 732.20 313.86 733.45 314.53 734.70 315.19 735.95 315.85 737.20 316.50 738.45 317.14 739.70 317.78 740.95 318.41 742.20 319.04 743.45 319.66 744.70 320.28 745.95 320.89 747.20 321.50 748.45 322.10 749.70 322.70 750.95 323.29 752.20 323.87 753.45 324.45 754.70 325.03 755.95 325.59 757.20 326.16 758.45 326.71 759.70 327.27 760.95 327.82 762.20 328.36 763.45 328.90 764.70 329.43 765.95 329.96 767.20 330.49 768.45 331.01 769.70 331.52 770.95 332.04 772.20 332.55 773.45 333.05 774.70 333.56 775.95 334.06 777.20 334.56 778.45 335.05 779.70 335.54 780.95 336.03 782.20 336.51 783.45 337.00 783.60 337.06" stroke="#808080" stroke-width="4"/>
<path d="M157.20 449.94 158.45 449.88 159.70 449.82 160.95 449.75 162.20 449.68 163.45 449.61 164.70 449.54 165.95 449.47 167.20 449.40 168.45 449.33 169.70 449.25 170.95 449.17 172.20 449.09 173.45 449.01 174.70 448.93 175.95 448.85 177.20 448.76 178.45 448.68 179.70 448.59 180.95 448.50 182.20 448.40 183.45 448.31 184.70 448.21 185.95 448.11 187.20 448.01 188.45 447.91 189.70 447.80 190.95 447.70 192.20 447.59 193.45 447.47 194.70 447.36 195.95 447.24 197.20 447.12 198.45 446.99 199.70 446.87 200.95 446.74 202.20 446.60 203.45 446.47 204.70 446.33 205.95 446.19 207.20 446.04 208.45 445.89 209.70 445.74 210.95 445.58 212.20 445.42 213.45 445.26 214.70 445.09 215.95 444.92 217.20 444.74 218.45 444.56 219.70 444.37 220.95 444.18 222.20 443.99 223.45 443.79 224.70 443.59 225.95 443.38 227.20 443.17 228.45 442.95 229.70 442.73 230.95 442.50 232.20 442.26 233.45 442.02 234.70 441.78 235.95 441.53 237.20 441.27 238.45 441.00 239.70 440.73 240.95 440.46 242.20 440.18 243.45 439.89 244.70 439.59 245.95 439.29 247.20 438.97 248.45 438.66 249.70 438.33 250.95 438.00 252.20 437.66 253.45 437.31 254.70 436.95 255.95 436.59 257.20 436.21 258.45 435.83 259.70 435.44 260.95 435.04 262.20 434.64 263.45 434.22 264.70 433.79 265.95 433.36 267.20 432.92 268.45 432.46 269.70 432.00 270.95 431.52 272.20 431.03 273.45 430.54 274.70 430.03 275.95 429.51 277.20 428.98 278.45 428.44 279.70 427.88 280.95 427.32 282.20 426.74 283.45 426.14 284.70 425.54 285.95 424.92 287.20 424.29 288.45 423.64 289.70 422.98 290.95 422.31 292.20 421.62 293.45 420.91 294.70 420.19 295.95 419.46 297.20 418.70 298.45 417.93 299.70 417.15 300.95 416.35 302.20 415.53 303.45 414.69 304.70 413.83 305.95 412.96 307.20 412.07 308.45 411.16 309.70 410.23 310.95 409.28 312.20 408.32 313.45 407.33 314.70 406.32 315.95 405.29 317.20 404.25 318.45 403.18 319.70 402.09 320.95 400.98 322.20 399.84 323.45 398.69 324.70 397.51 325.95 396.31 327.20 395.08 328.45 393.83 329.70 392.56 330.95 391.26 332.20 389.94 333.45 388.59 334.70 387.22 335.95 385.82 337.20 384.40 338.45 382.95 339.70 381.47 340.95 379.96 342.20 378.43 343.45 376.87 344.70 375.28 345.95 373.66 347.20 372.01 348.45 370.33 349.70 368.63 350.95 366.89 352.20 365.12 353.45 363.33 354.70 361.50 355.95 359.64 357.20 357.75 358.45 355.83 359.70 353.87 360.95 351.88 362.20 349.86 363.45 347.81 364.70 345.73 365.95 343.61 367.20 341.46 368.45 339.27 369.70 337.05 370.95 334.80 372.20 332.52 373.45 330.20 374.70 327.84 375.95 325.45 377.20 323.03 378.45 320.57 379.70 318.08 380.95 315.56 382.20 313.00 383.45 310.40 384.70 307.77 385.95 305.11 387.20 302.42 388.45 299.69 389.70 296.93 390.95 294.13 392.20 291.30 393.45 288.45 394.70 285.56 395.95 282.64 397.20 279.69 398.45 276.71 399.70 273.70 400.95 270.67 402.20 267.60 403.45 264.51 404.70 261.40 405.95 258.26 407.20 255.09 408.45 251.91 409.70 248.70 410.95 245.46 412.20 242.21 413.45 238.94 414.70 235.65 415.95 232.35 417.20 229.03 418.45 225.70 419.70 222.35 420.95 218.99 422.20 215.62 423.45 212.25 424.70 208.87 425.95 205.48 427.20 202.09 428.45 198.70 429.70 195.30 430.95 191.91 432.20 188.53 433.45 185.14 434.70 181.77 435.95 178.40 437.20 175.05 438.45 171.71 439.70 168.38 440.95 165.08 442.20 161.79 443.45 158.52 444.70 155.27 445.95 152.05 447.20 148.86 448.45 145.70 449.70 142.57 450.95 139.47 452.20 136.41 453.45 133.39 454.70 130.40 455.95 127.46 457.20 124.56 458.45 121.71 459.70 118.90 460.95 116.15 462.20 113.44 463.45 110.79 464.70 108.20 465.95 105.65 467.20 103.16 468.45 100.72 469.70 98.34 470.95 96.02 472.20 93.76 473.45 91.57 474.70 89.44 475.95 87.39 477.20 85.40 478.45 83.48 479.70 81.64 480.95 79.87 482.20 78.17 483.45 76.55 484.70 75.01 485.95 73.55 487.20 72.16 488.45 70.85 489.70 69.62 490.95 68.47 492.20 67.39 493.45 66.40 494.70 65.48 495.95 64.64 497.20 63.88 498.45 63.20 499.70 62.60 500.95 62.07 502.20 61.61 503.45 61.24 504.70 60.93 505.95 60.71 507.20 60.55 508.45 60.47 509.70 60.46 510.95 60.52 512.20 60.65 513.45 60.86 514.70 61.13 515.95 61.47 517.20 61.88 518.45 62.35 519.70 62.89 520.95 63.48 522.20 64.15 523.45 64.86 524.70 65.64 525.95 66.47 527.20 67.36 528.45 68.29 529.70 69.28 530.95 70.31 532.20 71.38 533.45 72.49 534.70 73.65 535.95 74.86 537.20 76.10 538.45 77.39 539.70 78.72 540.95 80.08 542.20 81.49 543.45 82.92 544.70 84.40 545.95 85.91 547.20 87.45 548.45 89.02 549.70 90.61 550.95 92.24 552.20 93.90 553.45 95.58 554.70 97.28 555.95 99.01 557.20 100.76 558.45 102.53 559.70 104.32 560.95 106.13 562.20 107.96 563.45 109.80 564.70 111.66 565.95 113.52 567.20 115.39 568.45 117.26 569.70 119.13 570.95 121.01 572.20 122.90 573.45 124.78 574.70 126.68 575.95 128.57 577.20 130.47 578.45 132.38 579.70 134.29 580.95 136.20 582.20 138.12 583.45 140.04 584.70 141.96 585.95 143.90 587.20 145.83 588.45 147.77 589.70 149.72 590.95 151.67 592.20 153.62 593.45 155.57 594.70 157.51 595.95 159.45 597.20 161.39 598.45 163.32 599.70 165.24 600.95 167.16 602.20 169.08 603.45 170.99 604.70 172.89 605.95 174.79 607.20 176.68 608.45 178.56 609.70 180.44 610.95 182.31 612.20 184.17 613.45 186.02 614.70 187.87 615.95 189.70 617.20 191.53 618.45 193.35 619.70 195.16 620.95 196.96 622.20 198.75 623.45 200.53 624.70 202.31 625.95 204.08 627.20 205.84 628.45 207.59 629.70 209.34 630.95 211.08 632.20 212.80 633.45 214.52 634.70 216.22 635.95 217.91 637.20 219.59 638.45 221.26 639.70 222.91 640.95 224.55 642.20 226.17 643.45 227.78 644.70 229.37 645.95 230.94 647.20 232.50 648.45 234.04 649.70 235.57 650.95 237.07 652.20 238.56 653.45 240.03 654.70 241.49 655.95 242.93 657.20 244.35 658.45 245.76 659.70 247.16 660.95 248.54 662.20 249.91 663.45 251.26 664.70 252.60 665.95 253.93 667.20 255.24 668.45 256.54 669.70 257.82 670.95 259.09 672.20 260.35 673.45 261.59 674.70 262.82 675.95 264.03 677.20 265.24 678.45 266.42 679.70 267.60 680.95 268.76 682.20 269.91 683.45 271.05 684.70 272.18 685.95 273.29 687.20 274.39 688.45 275.48 689.70 276.55 690.95 277.61 692.20 278.66 693.45 279.70 694.70 280.72 695.95 281.73 697.20 282.73 698.45 283.71 699.70 284.68 700.95 285.65 702.20 286.60 703.45 287.53 704.70 288.46 705.95 289.38 707.20 290.28 708.45 291.18 709.70 292.06 710.95 292.94 712.20 293.80 713.45 294.65 714.70 295.49 715.95 296.33 717.20 297.15 718.45 297.96 719.70 298.77 720.95 299.56 722.20 300.35 723.45 301.12 724.70 301.89 725.95 302.65 727.20 303.40 728.45 304.14 729.70 304.88 730.95 305.60 732.20 306.32 733.45 307.03 734.70 307.73 735.95 308.42 737.20 309.11 738.45 309.78 739.70 310.45 740.95 311.12 742.20 311.77 743.45 312.42 744.70 313.06 745.95 313.70 747.20 314.33 748.45 314.95 749.70 315.55 750.95 316.15 752.20 316.73 753.45 317.31 754.70 317.87 755.95 318.42 757.20 318.97 758.45 319.51 759.70 320.04 760.95 320.56 762.20 321.08 763.45 321.59 764.70 322.09 765.95 322.59 767.20 323.09 768.45 323.58 769.70 324.07 770.95 324.56 772.20 325.05 773.45 325.53 774.70 326.02 775.95 326.50 777.20 326.99 778.45 327.48 779.70 327.96 780.95 328.45 782.20 328.94 783.45 329.44 783.60 329.50" stroke="#ff8000" stroke-width="4"/>
<path d="M157.20 450.27 158.45 450.21 159.70 450.14 160.95 450.08 162.20 450.01 163.45 449.94 164.70 449.87 165.95 449.80 167.20 449.73 168.45 449.66 169.70 449.58 170.95 449.50 172.20 449.42 173.45 449.34 174.70 449.26 175.95 449.18 177.20 449.09 178.45 449.00 179.70 448.91 180.95 448.82 182.20 448.73 183.45 448.63 184.70 448.54 185.95 448.44 187.20 448.33 188.45 448.23 189.70 448.12 190.95 448.01 192.20 447.90 193.45 447.79 194.70 447.67 195.95 447.55 197.20 447.43 198.45 447.30 199.70 447.18 200.95 447.05 202.20 446.91 203.45 446.78 204.70 446.64 205.95 446.49 207.20 446.35 208.45 446.20 209.70 446.04 210.95 445.89 212.20 445.73 213.45 445.56 214.70 445.39 215.95 445.22 217.20 445.04 218.45 444.86 219.70 444.68 220.95 444.49 222.20 444.30 223.45 444.10 224.70 443.90 225.95 443.69 227.20 443.48 228.45 443.26 229.70 443.04 230.95 442.82 232.20 442.58 233.45 442.35 234.70 442.10 235.95 441.85 237.20 441.60 238.45 441.34 239.70 441.07 240.95 440.80 242.20 440.52 243.45 440.24 244.70 439.95 245.95 439.65 247.20 439.34 248.45 439.03 249.70 438.71 250.95 438.38 252.20 438.05 253.45 437.71 254.70 437.36 255.95 437.00 257.20 436.64 258.45 436.26 259.70 435.88 260.95 435.49 262.20 435.09 263.45 434.69 264.70 434.27 265.95 433.85 267.20 433.41 268.45 432.97 269.70 432.51 270.95 432.05 272.20 431.58 273.45 431.09 274.70 430.60 275.95 430.09 277.20 429.58 278.45 429.05 279.70 428.51 280.95 427.96 282.20 427.40 283.45 426.82 284.70 426.24 285.95 425.64 287.20 425.02 288.45 424.40 289.70 423.76 290.95 423.11 292.20 422.44 293.45 421.76 294.70 421.07 295.95 420.36 297.20 419.63 298.45 418.89 299.70 418.13 300.95 417.36 302.20 416.56 303.45 415.75 304.70 414.92 305.95 414.08 307.20 413.22 308.45 412.34 309.70 411.44 310.95 410.52 312.20 409.58 313.45 408.63 314.70 407.65 315.95 406.66 317.20 405.65 318.45 404.62 319.70 403.57 320.95 402.50 322.20 401.41 323.45 400.30 324.70 399.18 325.95 398.03 327.20 396.86 328.45 395.68 329.70 394.47 330.95 393.26 332.20 392.03 333.45 390.79 334.70 389.53 335.95 388.25 337.20 386.94 338.45 385.61 339.70 384.25 340.95 382.85 342.20 381.41 343.45 379.94 344.70 378.45 345.95 376.92 347.20 375.37 348.45 373.80 349.70 372.19 350.95 370.56 352.20 368.91 353.45 367.22 354.70 365.51 355.95 363.76 357.20 361.99 358.45 360.19 359.70 358.37 360.95 356.51 362.20 354.62 363.45 352.71 364.70 350.76 365.95 348.79 367.20 346.79 368.45 344.76 369.70 342.69 370.95 340.60 372.20 338.48 373.45 336.33 374.70 334.15 375.95 331.94 377.20 329.70 378.45 327.44 379.70 325.14 380.95 322.81 382.20 320.46 383.45 318.07 384.70 315.66 385.95 313.22 387.20 310.75 388.45 308.25 389.70 305.73 390.95 303.18 392.20 300.60 393.45 298.00 394.70 295.37 395.95 292.71 397.20 290.03 398.45 287.32 399.70 284.59 400.95 281.82 402.20 279.04 403.45 276.23 404.70 273.40 405.95 270.54 407.20 267.66 408.45 264.76 409.70 261.85 410.95 258.91 412.20 255.96 413.45 252.99 414.70 250.00 415.95 247.00 417.20 243.99 418.45 240.96 419.70 237.92 420.95 234.88 422.20 231.82 423.45 228.76 424.70 225.70 425.95 222.63 427.20 219.56 428.45 216.49 429.70 213.42 430.95 210.35 432.20 207.28 433.45 204.22 434.70 201.17 435.95 198.13 437.20 195.09 438.45 192.07 439.70 189.05 440.95 186.05 442.20 183.06 443.45 180.08 444.70 177.12 445.95 174.18 447.20 171.25 448.45 168.34 449.70 165.46 450.95 162.60 452.20 159.76 453.45 156.95 454.70 154.16 455.95 151.40 457.20 148.68 458.45 145.98 459.70 143.31 460.95 140.68 462.20 138.09 463.45 135.53 464.70 133.00 465.95 130.52 467.20 128.07 468.45 125.67 469.70 123.31 470.95 120.99 472.20 118.71 473.45 116.48 474.70 114.29 475.95 112.15 477.20 110.06 478.45 108.02 479.70 106.02 480.95 104.07 482.20 102.18 483.45 100.33 484.70 98.54 485.95 96.80 487.20 95.11 488.45 93.47 489.70 91.89 490.95 90.37 492.20 88.89 493.45 87.48 494.70 86.11 495.95 84.81 497.20 83.56 498.45 82.37 499.70 81.23 500.95 80.15 502.20 79.13 503.45 78.16 504.70 77.25 505.95 76.40 507.20 75.61 508.45 74.87 509.70 74.19 510.95 73.57 512.20 73.00 513.45 72.49 514.70 72.04 515.95 71.64 517.20 71.30 518.45 71.01 519.70 70.78 520.95 70.61 522.20 70.49 523.45 70.42 524.70 70.40 525.95 70.44 527.20 70.53 528.45 70.68 529.70 70.87 530.95 71.12 532.20 71.41 533.45 71.76 534.70 72.15 535.95 72.59 537.20 73.07 538.45 73.60 539.70 74.18 540.95 74.79 542.20 75.45 543.45 76.16 544.70 76.90 545.95 77.68 547.20 78.51 548.45 79.37 549.70 80.27 550.95 81.21 552.20 82.18 553.45 83.19 554.70 84.23 555.95 85.31 557.20 86.42 558.45 87.56 559.70 88.74 560.95 89.95 562.20 91.18 563.45 92.45 564.70 93.75 565.95 95.07 567.20 96.42 568.45 97.80 569.70 99.21 570.95 100.64 572.20 102.10 573.45 103.59 574.70 105.10 575.95 106.63 577.20 108.19 578.45 109.77 579.70 111.38 580.95 113.00 582.20 114.64 583.45 116.30 584.70 117.97 585.95 119.66 587.20 121.35 588.45 123.07 589.70 124.79 590.95 126.52 592.20 128.27 593.45 130.02 594.70 131.78 595.95 133.55 597.20 135.33 598.45 137.11 599.70 138.90 600.95 140.69 602.20 142.49 603.45 144.29 604.70 146.09 605.95 147.90 607.20 149.71 608.45 151.52 609.70 153.33 610.95 155.14 612.20 156.95 613.45 158.75 614.70 160.56 615.95 162.36 617.20 164.17 618.45 165.96 619.70 167.76 620.95 169.55 622.20 171.33 623.45 173.11 624.70 174.89 625.95 176.66 627.20 178.42 628.45 180.18 629.70 181.93 630.95 183.67 632.20 185.41 633.45 187.14 634.70 188.86 635.95 190.57 637.20 192.27 638.45 193.96 639.70 195.65 640.95 197.32 642.20 198.99 643.45 200.64 644.70 202.29 645.95 203.92 647.20 205.55 648.45 207.16 649.70 208.77 650.95 210.36 652.20 211.94 653.45 213.51 654.70 215.07 655.95 216.62 657.20 218.16 658.45 219.69 659.70 221.20 660.95 222.71 662.20 224.20 663.45 225.68 664.70 227.14 665.95 228.60 667.20 230.05 668.45 231.48 669.70 232.90 670.95 234.31 672.20 235.71 673.45 237.09 674.70 238.47 675.95 239.83 677.20 241.18 678.45 242.52 679.70 243.84 680.95 245.16 682.20 246.46 683.45 247.75 684.70 249.03 685.95 250.30 687.20 251.56 688.45 252.80 689.70 254.04 690.95 255.26 692.20 256.47 693.45 257.67 694.70 258.86 695.95 260.04 697.20 261.21 698.45 262.36 699.70 263.51 700.95 264.64 702.20 265.77 703.45 266.88 704.70 267.98 705.95 269.07 707.20 270.15 708.45 271.23 709.70 272.29 710.95 273.34 712.20 274.38 713.45 275.42 714.70 276.44 715.95 277.46 717.20 278.47 718.45 279.47 719.70 280.46 720.95 281.45 722.20 282.43 723.45 283.40 724.70 284.36 725.95 285.31 727.20 286.25 728.45 287.19 729.70 288.11 730.95 289.03 732.20 289.94 733.45 290.85 734.70 291.74 735.95 292.63 737.20 293.51 738.45 294.38 739.70 295.24 740.95 296.09 742.20 296.94 743.45 297.78 744.70 298.61 745.95 299.43 747.20 300.25 748.45 301.05 749.70 301.85 750.95 302.64 752.20 303.43 753.45 304.20 754.70 304.97 755.95 305.73 757.20 306.49 758.45 307.23 759.70 307.97 760.95 308.71 762.20 309.43 763.45 310.15 764.70 310.86 765.95 311.56 767.20 312.25 768.45 312.94 769.70 313.62 770.95 314.30 772.20 314.97 773.45 315.63 774.70 316.28 775.95 316.93 777.20 317.57 778.45 318.20 779.70 318.83 780.95 319.45 782.20 320.06 783.45 320.67 783.60 320.74" stroke="#0000ff" stroke-width="4"/>
<path d="M158.72 450.46 159.97 450.40 161.22 450.35 162.47 450.29 163.72 450.23 164.97 450.18 166.22 450.12 167.47 450.06 168.72 450.00 169.97 449.94 171.22 449.88 172.47 449.81 173.72 449.75 174.97 449.68 176.22 449.62 177.47 449.55 178.72 449.48 179.97 449.41 181.22 449.34 182.47 449.27 183.72 449.20 184.97 449.12 186.22 449.05 187.47 448.97 188.72 448.89 189.97 448.81 191.22 448.72 192.47 448.64 193.72 448.55 194.97 448.46 196.22 448.37 197.47 448.27 198.72 448.18 199.97 448.08 201.22 447.98 202.47 447.88 203.72 447.77 204.97 447.66 206.22 447.55 207.47 447.44 208.72 447.32 209.97 447.20 211.22 447.08 212.47 446.95 213.72 446.82 214.97 446.69 216.22 446.56 217.47 446.42 218.72 446.28 219.97 446.13 221.22 445.98 222.47 445.83 223.72 445.67 224.97 445.51 226.22 445.34 227.47 445.17 228.72 444.99 229.97 444.81 231.22 444.63 232.47 444.44 233.72 444.25 234.97 444.05 236.22 443.85 237.47 443.64 238.72 443.42 239.97 443.20 241.22 442.98 242.47 442.75 243.72 442.51 244.97 442.27 246.22 442.02 247.47 441.76 248.72 441.50 249.97 441.23 251.22 440.95 252.47 440.67 253.72 440.38 254.97 440.09 256.22 439.79 257.47 439.48 258.72 439.16 259.97 438.84 261.22 438.51 262.47 438.18 263.72 437.83 264.97 437.48 266.22 437.12 267.47 436.75 268.72 436.37 269.97 435.99 271.22 435.59 272.47 435.19 273.72 434.77 274.97 434.35 276.22 433.92 277.47 433.47 278.72 433.02 279.97 432.55 281.22 432.07 282.47 431.58 283.72 431.08 284.97 430.56 286.22 430.04 287.47 429.50 288.72 428.94 289.97 428.37 291.22 427.79 292.47 427.20 293.72 426.58 294.97 425.96 296.22 425.31 297.47 424.65 298.72 423.98 299.97 423.29 301.22 422.58 302.47 421.85 303.72 421.11 304.97 420.36 306.22 419.58 307.47 418.79 308.72 417.98 309.97 417.15 311.22 416.30 312.47 415.43 313.72 414.54 314.97 413.63 316.22 412.70 317.47 411.75 318.72 410.78 319.97 409.79 321.22 408.78 322.47 407.74 323.72 406.69 324.97 405.61 326.22 404.50 327.47 403.38 328.72 402.23 329.97 401.05 331.22 399.85 332.47 398.63 333.72 397.38 334.97 396.11 336.22 394.81 337.47 393.49 338.72 392.14 339.97 390.77 341.22 389.36 342.47 387.90 343.72 386.41 344.97 384.89 346.22 383.34 347.47 381.76 348.72 380.14 349.97 378.50 351.22 376.81 352.47 375.10 353.72 373.35 354.97 371.56 356.22 369.74 357.47 367.89 358.72 365.99 359.97 364.06 361.22 362.09 362.47 360.09 363.72 358.04 364.97 355.95 366.22 353.83 367.47 351.66 368.72 349.45 369.97 347.20 371.22 344.91 372.47 342.58 373.72 340.20 374.97 337.78 376.22 335.31 377.47 332.80 378.72 330.24 379.97 327.64 381.22 324.99 382.47 322.30 383.72 319.56 384.97 316.77 386.22 313.94 387.47 311.05 388.72 308.12 389.97 305.15 391.22 302.12 392.47 299.04 393.72 295.92 394.97 292.75 396.22 289.52 397.47 286.25 398.72 282.93 399.97 279.56 401.22 276.14 402.47 272.67 403.72 269.16 404.97 265.60 406.22 261.99 407.47 258.34 408.72 254.64 409.97 250.90 411.22 247.12 412.47 243.30 413.72 239.45 414.97 235.55 416.22 231.62 417.47 227.66 418.72 223.67 419.97 219.65 421.22 215.61 422.47 211.54 423.72 207.44 424.97 203.34 426.22 199.21 427.47 195.08 428.72 190.93 429.97 186.77 431.22 182.60 432.47 178.43 433.72 174.25 434.97 170.08 436.22 165.91 437.47 161.74 438.72 157.59 439.97 153.45 441.22 149.32 442.47 145.22 443.72 141.14 444.97 137.08 446.22 133.06 447.47 129.08 448.72 125.13 449.97 121.22 451.22 117.37 452.47 113.56 453.72 109.81 454.97 106.12 456.22 102.48 457.47 98.92 458.72 95.42 459.97 91.99 461.22 88.65 462.47 85.39 463.72 82.22 464.97 79.14 466.22 76.15 467.47 73.27 468.72 70.48 469.97 67.80 471.22 65.23 472.47 62.77 473.72 60.42 474.97 58.18 476.22 56.06 477.47 54.06 478.72 52.17 479.97 50.41 481.22 48.77 482.47 47.24 483.72 45.84 484.97 44.56 486.22 43.40 487.47 42.36 488.72 41.45 489.97 40.65 491.22 39.97 492.47 39.41 493.72 38.97 494.97 38.64 496.22 38.43 497.47 38.32 498.72 38.33 499.97 38.45 501.22 38.67 502.47 39.00 503.72 39.43 504.97 39.97 506.22 40.59 507.47 41.32 508.72 42.14 509.97 43.04 511.22 44.04 512.47 45.12 513.72 46.28 514.97 47.52 516.22 48.84 517.47 50.22 518.72 51.68 519.97 53.21 521.22 54.79 522.47 56.44 523.72 58.15 524.97 59.90 526.22 61.71 527.47 63.56 528.72 65.46 529.97 67.40 531.22 69.37 532.47 71.38 533.72 73.42 534.97 75.48 536.22 77.56 537.47 79.66 538.72 81.77 539.97 83.91 541.22 86.05 542.47 88.22 543.72 90.39 544.97 92.58 546.22 94.79 547.47 97.00 548.72 99.23 549.97 101.47 551.22 103.72 552.47 105.99 553.72 108.26 554.97 110.54 556.22 112.83 557.47 115.11 558.72 117.39 559.97 119.67 561.22 121.95 562.47 124.23 563.72 126.50 564.97 128.76 566.22 131.02 567.47 133.28 568.72 135.52 569.97 137.76 571.22 139.99 572.47 142.21 573.72 144.42 574.97 146.62 576.22 148.81 577.47 150.98 578.72 153.14 579.97 155.28 581.22 157.41 582.47 159.53 583.72 161.63 584.97 163.72 586.22 165.80 587.47 167.86 588.72 169.91 589.97 171.94 591.22 173.96 592.47 175.96 593.72 177.95 594.97 179.93 596.22 181.89 597.47 183.84 598.72 185.77 599.97 187.69 601.22 189.60 602.47 191.49 603.72 193.36 604.97 195.22 606.22 197.07 607.47 198.89 608.72 200.70 609.97 202.49 611.22 204.26 612.47 206.02 613.72 207.76 614.97 209.48 616.22 211.19 617.47 212.88 618.72 214.55 619.97 216.21 621.22 217.86 622.47 219.48 623.72 221.09 624.97 222.69 626.22 224.27 627.47 225.83 628.72 227.38 629.97 228.92 631.22 230.43 632.47 231.94 633.72 233.43 634.97 234.91 636.22 236.37 637.47 237.82 638.72 239.25 639.97 240.67 641.22 242.08 642.47 243.48 643.72 244.86 644.97 246.23 646.22 247.58 647.47 248.92 648.72 250.25 649.97 251.57 651.22 252.88 652.47 254.17 653.72 255.45 654.97 256.72 656.22 257.97 657.47 259.21 658.72 260.45 659.97 261.67 661.22 262.88 662.47 264.07 663.72 265.26 664.97 266.43 666.22 267.60 667.47 268.75 668.72 269.89 669.97 271.02 671.22 272.14 672.47 273.25 673.72 274.35 674.97 275.44 676.22 276.52 677.47 277.59 678.72 278.64 679.97 279.69 681.22 280.73 682.47 281.76 683.72 282.78 684.97 283.79 686.22 284.79 687.47 285.79 688.72 286.79 689.97 287.85 691.22 288.93 692.47 289.99 693.72 291.02 694.97 291.97 696.22 292.86 697.47 293.74 698.72 294.61 699.97 295.47 701.22 296.32 702.47 297.16 703.72 297.99 704.97 298.82 706.22 299.63 707.47 300.44 708.72 301.24 709.97 302.03 711.22 302.82 712.47 303.59 713.72 304.36 714.97 305.13 716.22 305.88 717.47 306.63 718.72 307.37 719.97 308.10 721.22 308.82 722.47 309.54 723.72 310.25 724.97 310.96 726.22 311.66 727.47 312.35 728.72 313.04 729.97 313.72 731.22 314.39 732.47 315.06 733.72 315.72 734.97 316.37 736.22 317.02 737.47 317.67 738.72 318.31 739.97 318.94 741.22 319.57 742.47 320.19 743.72 320.80 744.97 321.42 746.22 322.02 747.47 322.62 748.72 323.22 749.97 323.81 751.22 324.39 752.47 324.97 753.72 325.55 754.97 326.12 756.22 326.68 757.47 327.24 758.72 327.79 759.97 328.34 761.22 328.88 762.47 329.42 763.72 329.95 764.97 330.48 766.22 331.01 767.47 331.53 768.72 332.04 769.97 332.56 771.22 333.07 772.47 333.57 773.72 334.08 774.97 334.57 776.22 335.07 777.47 335.56 778.72 336.05 779.97 336.54 781.22 337.03 782.30 337.44" stroke="#000000" stroke-width="5.3" stroke-linecap="square" stroke-dasharray="2.7 9.3 9.6 9.3"/>
<path d="M158.72 450.65 159.97 450.60 161.22 450.55 162.47 450.49 163.72 450.44 164.97 450.38 166.22 450.33 167.47 450.27 168.72 450.21 169.97 450.15 171.22 450.10 172.47 450.03 173.72 449.97 174.97 449.91 176.22 449.85 177.47 449.78 178.72 449.71 179.97 449.64 181.22 449.58 182.47 449.50 183.72 449.43 184.97 449.36 186.22 449.28 187.47 449.21 188.72 449.13 189.97 449.05 191.22 448.96 192.47 448.88 193.72 448.79 194.97 448.70 196.22 448.61 197.47 448.52 198.72 448.43 199.97 448.33 201.22 448.23 202.47 448.13 203.72 448.02 204.97 447.92 206.22 447.81 207.47 447.70 208.72 447.58 209.97 447.46 211.22 447.34 212.47 447.22 213.72 447.09 214.97 446.96 216.22 446.83 217.47 446.69 218.72 446.55 219.97 446.41 221.22 446.26 222.47 446.11 223.72 445.95 224.97 445.80 226.22 445.63 227.47 445.47 228.72 445.29 229.97 445.12 231.22 444.94 232.47 444.75 233.72 444.57 234.97 444.37 236.22 444.17 237.47 443.97 238.72 443.76 239.97 443.55 241.22 443.33 242.47 443.10 243.72 442.87 244.97 442.63 246.22 442.39 247.47 442.14 248.72 441.89 249.97 441.62 251.22 441.36 252.47 441.08 253.72 440.80 254.97 440.51 256.22 440.22 257.47 439.92 258.72 439.61 259.97 439.30 261.22 438.98 262.47 438.65 263.72 438.31 264.97 437.97 266.22 437.62 267.47 437.26 268.72 436.89 269.97 436.51 271.22 436.13 272.47 435.73 273.72 435.33 274.97 434.92 276.22 434.49 277.47 434.06 278.72 433.62 279.97 433.16 281.22 432.70 282.47 432.22 283.72 431.73 284.97 431.23 286.22 430.72 287.47 430.20 288.72 429.66 289.97 429.11 291.22 428.55 292.47 427.97 293.72 427.38 294.97 426.78 296.22 426.16 297.47 425.53 298.72 424.88 299.97 424.21 301.22 423.53 302.47 422.83 303.72 422.11 304.97 421.38 306.22 420.63 307.47 419.87 308.72 419.08 309.97 418.28 311.22 417.46 312.47 416.62 313.72 415.76 314.97 414.88 316.22 413.98 317.47 413.07 318.72 412.13 319.97 411.17 321.22 410.19 322.47 409.18 323.72 408.16 324.97 407.11 326.22 406.04 327.47 404.95 328.72 403.83 329.97 402.69 331.22 401.53 332.47 400.34 333.72 399.12 334.97 397.88 336.22 396.61 337.47 395.32 338.72 394.00 339.97 392.65 341.22 391.27 342.47 389.87 343.72 388.43 344.97 386.97 346.22 385.47 347.47 383.94 348.72 382.38 349.97 380.79 351.22 379.17 352.47 377.51 353.72 375.81 354.97 374.08 356.22 372.32 357.47 370.52 358.72 368.69 359.97 366.81 361.22 364.90 362.47 362.96 363.72 360.97 364.97 358.94 366.22 356.88 367.47 354.77 368.72 352.63 369.97 350.44 371.22 348.21 372.47 345.94 373.72 343.63 374.97 341.27 376.22 338.87 377.47 336.42 378.72 333.93 379.97 331.40 381.22 328.82 382.47 326.20 383.72 323.53 384.97 320.82 386.22 318.05 387.47 315.25 388.72 312.39 389.97 309.49 391.22 306.55 392.47 303.55 393.72 300.51 394.97 297.43 396.22 294.30 397.47 291.12 398.72 287.89 399.97 284.61 401.22 281.29 402.47 277.92 403.72 274.50 404.97 271.03 406.22 267.52 407.47 263.97 408.72 260.37 409.97 256.73 411.22 253.05 412.47 249.32 413.72 245.56 414.97 241.76 416.22 237.93 417.47 234.06 418.72 230.16 419.97 226.23 421.22 222.27 422.47 218.29 423.72 214.28 424.97 210.26 426.22 206.21 427.47 202.16 428.72 198.09 429.97 194.01 431.22 189.93 432.47 185.84 433.72 181.74 434.97 177.65 436.22 173.55 437.47 169.47 438.72 165.39 439.97 161.32 441.22 157.27 442.47 153.23 443.72 149.22 444.97 145.23 446.22 141.28 447.47 137.35 448.72 133.46 449.97 129.61 451.22 125.80 452.47 122.04 453.72 118.33 454.97 114.68 456.22 111.08 457.47 107.55 458.72 104.08 459.97 100.67 461.22 97.34 462.47 94.09 463.72 90.91 464.97 87.82 466.22 84.81 467.47 81.89 468.72 79.06 469.97 76.32 471.22 73.69 472.47 71.15 473.72 68.72 474.97 66.39 476.22 64.16 477.47 62.04 478.72 60.04 479.97 58.14 481.22 56.36 482.47 54.69 483.72 53.13 484.97 51.68 486.22 50.35 487.47 49.14 488.72 48.04 489.97 47.05 491.22 46.18 492.47 45.43 493.72 44.78 494.97 44.25 496.22 43.83 497.47 43.52 498.72 43.31 499.97 43.22 501.22 43.23 502.47 43.34 503.72 43.55 504.97 43.87 506.22 44.28 507.47 44.79 508.72 45.40 509.97 46.09 511.22 46.87 512.47 47.74 513.72 48.70 514.97 49.73 516.22 50.85 517.47 52.04 518.72 53.30 519.97 54.64 521.22 56.04 522.47 57.51 523.72 59.04 524.97 60.62 526.22 62.27 527.47 63.97 528.72 65.72 529.97 67.51 531.22 69.36 532.47 71.24 533.72 73.16 534.97 75.11 536.22 77.09 537.47 79.09 538.72 81.11 539.97 83.15 541.22 85.21 542.47 87.29 543.72 89.38 544.97 91.50 546.22 93.63 547.47 95.78 548.72 97.94 549.97 100.12 551.22 102.32 552.47 104.53 553.72 106.76 554.97 109.00 556.22 111.24 557.47 113.48 558.72 115.73 559.97 117.98 561.22 120.24 562.47 122.49 563.72 124.74 564.97 126.99 566.22 129.24 567.47 131.48 568.72 133.72 569.97 135.95 571.22 138.18 572.47 140.40 573.72 142.61 574.97 144.81 576.22 147.01 577.47 149.19 578.72 151.36 579.97 153.51 581.22 155.66 582.47 157.79 583.72 159.91 584.97 162.02 586.22 164.11 587.47 166.20 588.72 168.27 589.97 170.32 591.22 172.36 592.47 174.39 593.72 176.41 594.97 178.41 596.22 180.39 597.47 182.37 598.72 184.33 599.97 186.27 601.22 188.20 602.47 190.12 603.72 192.02 604.97 193.91 606.22 195.78 607.47 197.63 608.72 199.46 609.97 201.28 611.22 203.08 612.47 204.86 613.72 206.63 614.97 208.38 616.22 210.11 617.47 211.83 618.72 213.52 619.97 215.21 621.22 216.87 622.47 218.52 623.72 220.15 624.97 221.77 626.22 223.37 627.47 224.96 628.72 226.53 629.97 228.08 631.22 229.62 632.47 231.15 633.72 232.65 634.97 234.15 636.22 235.63 637.47 237.09 638.72 238.55 639.97 239.98 641.22 241.41 642.47 242.82 643.72 244.21 644.97 245.59 646.22 246.96 647.47 248.32 648.72 249.66 649.97 250.99 651.22 252.30 652.47 253.61 653.72 254.90 654.97 256.17 656.22 257.44 657.47 258.69 658.72 259.93 659.97 261.16 661.22 262.37 662.47 263.58 663.72 264.77 664.97 265.95 666.22 267.12 667.47 268.28 668.72 269.42 669.97 270.56 671.22 271.68 672.47 272.80 673.72 273.90 674.97 274.99 676.22 276.07 677.47 277.14 678.72 278.20 679.97 279.25 681.22 280.29 682.47 281.32 683.72 282.35 684.97 283.36 686.22 284.36 687.47 285.35 688.72 286.36 689.97 287.41 691.22 288.49 692.47 289.55 693.72 290.58 694.97 291.53 696.22 292.42 697.47 293.29 698.72 294.16 699.97 295.02 701.22 295.86 702.47 296.70 703.72 297.53 704.97 298.35 706.22 299.17 707.47 299.97 708.72 300.77 709.97 301.56 711.22 302.34 712.47 303.11 713.72 303.88 714.97 304.63 716.22 305.38 717.47 306.13 718.72 306.86 719.97 307.59 721.22 308.31 722.47 309.02 723.72 309.73 724.97 310.43 726.22 311.12 727.47 311.81 728.72 312.49 729.97 313.17 731.22 313.83 732.47 314.50 733.72 315.15 734.97 315.80 736.22 316.45 737.47 317.08 738.72 317.72 739.97 318.34 741.22 318.96 742.47 319.58 743.72 320.19 744.97 320.80 746.22 321.40 747.47 321.99 748.72 322.58 749.97 323.16 751.22 323.74 752.47 324.32 753.72 324.89 754.97 325.45 756.22 326.00 757.47 326.56 758.72 327.10 759.97 327.64 761.22 328.18 762.47 328.71 763.72 329.24 764.97 329.76 766.22 330.28 767.47 330.79 768.72 331.30 769.97 331.81 771.22 332.31 772.47 332.81 773.72 333.31 774.97 333.80 776.22 334.29 777.47 334.78 778.72 335.26 779.97 335.74 781.22 336.22 782.30 336.63" stroke="#ff0000" stroke-width="5.3" stroke-linecap="square" stroke-dasharray="2.7 9.3 9.6 9.3"/>
<path d="M158.72 450.95 159.97 450.90 161.22 450.85 162.47 450.80 163.72 450.75 164.97 450.70 166.22 450.65 167.47 450.59 168.72 450.54 169.97 450.48 171.22 450.43 172.47 450.37 173.72 450.31 174.97 450.25 176.22 450.19 177.47 450.13 178.72 450.07 179.97 450.00 181.22 449.94 182.47 449.87 183.72 449.80 184.97 449.73 186.22 449.66 187.47 449.59 188.72 449.51 189.97 449.44 191.22 449.36 192.47 449.28 193.72 449.19 194.97 449.11 196.22 449.02 197.47 448.94 198.72 448.85 199.97 448.75 201.22 448.66 202.47 448.56 203.72 448.46 204.97 448.36 206.22 448.26 207.47 448.15 208.72 448.04 209.97 447.93 211.22 447.82 212.47 447.70 213.72 447.58 214.97 447.45 216.22 447.33 217.47 447.20 218.72 447.06 219.97 446.93 221.22 446.79 222.47 446.64 223.72 446.50 224.97 446.35 226.22 446.19 227.47 446.03 228.72 445.87 229.97 445.70 231.22 445.53 232.47 445.36 233.72 445.18 234.97 445.00 236.22 444.81 237.47 444.61 238.72 444.42 239.97 444.21 241.22 444.00 242.47 443.79 243.72 443.57 244.97 443.35 246.22 443.12 247.47 442.88 248.72 442.64 249.97 442.39 251.22 442.14 252.47 441.88 253.72 441.61 254.97 441.34 256.22 441.07 257.47 440.78 258.72 440.49 259.97 440.19 261.22 439.89 262.47 439.58 263.72 439.26 264.97 438.94 266.22 438.60 267.47 438.26 268.72 437.91 269.97 437.56 271.22 437.19 272.47 436.82 273.72 436.44 274.97 436.05 276.22 435.65 277.47 435.24 278.72 434.83 279.97 434.40 281.22 433.96 282.47 433.51 283.72 433.06 284.97 432.59 286.22 432.11 287.47 431.62 288.72 431.12 289.97 430.60 291.22 430.08 292.47 429.54 293.72 428.99 294.97 428.42 296.22 427.85 297.47 427.26 298.72 426.65 299.97 426.03 301.22 425.40 302.47 424.75 303.72 424.09 304.97 423.41 306.22 422.71 307.47 422.00 308.72 421.27 309.97 420.52 311.22 419.76 312.47 418.98 313.72 418.18 314.97 417.37 316.22 416.53 317.47 415.68 318.72 414.81 319.97 413.92 321.22 413.01 322.47 412.08 323.72 411.13 324.97 410.16 326.22 409.16 327.47 408.15 328.72 407.11 329.97 406.05 331.22 404.97 332.47 403.86 333.72 402.74 334.97 401.58 336.22 400.41 337.47 399.20 338.72 397.98 339.97 396.72 341.22 395.44 342.47 394.14 343.72 392.81 344.97 391.45 346.22 390.06 347.47 388.64 348.72 387.19 349.97 385.71 351.22 384.21 352.47 382.67 353.72 381.09 354.97 379.49 356.22 377.85 357.47 376.18 358.72 374.47 359.97 372.73 361.22 370.96 362.47 369.15 363.72 367.30 364.97 365.42 366.22 363.50 367.47 361.54 368.72 359.54 369.97 357.50 371.22 355.43 372.47 353.31 373.72 351.15 374.97 348.96 376.22 346.72 377.47 344.44 378.72 342.11 379.97 339.75 381.22 337.34 382.47 334.89 383.72 332.39 384.97 329.85 386.22 327.27 387.47 324.64 388.72 321.97 389.97 319.25 391.22 316.49 392.47 313.68 393.72 310.83 394.97 307.93 396.22 304.99 397.47 302.01 398.72 298.97 399.97 295.90 401.22 292.78 402.47 289.61 403.72 286.40 404.97 283.14 406.22 279.83 407.47 276.48 408.72 273.08 409.97 269.64 411.22 266.16 412.47 262.63 413.72 259.06 414.97 255.46 416.22 251.81 417.47 248.13 418.72 244.41 419.97 240.65 421.22 236.87 422.47 233.05 423.72 229.20 424.97 225.33 426.22 221.43 427.47 217.51 428.72 213.56 429.97 209.61 431.22 205.63 432.47 201.65 433.72 197.65 434.97 193.65 436.22 189.64 437.47 185.64 438.72 181.63 439.97 177.63 441.22 173.64 442.47 169.65 443.72 165.68 444.97 161.72 446.22 157.78 447.47 153.87 448.72 149.97 449.97 146.11 451.22 142.28 452.47 138.48 453.72 134.72 454.97 131.00 456.22 127.33 457.47 123.70 458.72 120.13 459.97 116.61 461.22 113.15 462.47 109.75 463.72 106.42 464.97 103.16 466.22 99.97 467.47 96.86 468.72 93.83 469.97 90.88 471.22 88.02 472.47 85.25 473.72 82.57 474.97 79.98 476.22 77.49 477.47 75.10 478.72 72.80 479.97 70.61 481.22 68.53 482.47 66.55 483.72 64.67 484.97 62.91 486.22 61.25 487.47 59.71 488.72 58.28 489.97 56.96 491.22 55.75 492.47 54.66 493.72 53.68 494.97 52.81 496.22 52.05 497.47 51.41 498.72 50.88 499.97 50.46 501.22 50.14 502.47 49.94 503.72 49.85 504.97 49.86 506.22 49.97 507.47 50.19 508.72 50.51 509.97 50.93 511.22 51.44 512.47 52.03 513.72 52.72 514.97 53.50 516.22 54.35 517.47 55.29 518.72 56.30 519.97 57.39 521.22 58.55 522.47 59.79 523.72 61.08 524.97 62.44 526.22 63.87 527.47 65.35 528.72 66.90 529.97 68.50 531.22 70.15 532.47 71.86 533.72 73.62 534.97 75.43 536.22 77.27 537.47 79.15 538.72 81.07 539.97 83.02 541.22 85.00 542.47 87.01 543.72 89.04 544.97 91.11 546.22 93.19 547.47 95.30 548.72 97.43 549.97 99.58 551.22 101.74 552.47 103.92 553.72 106.12 554.97 108.33 556.22 110.55 557.47 112.78 558.72 115.02 559.97 117.27 561.22 119.52 562.47 121.77 563.72 124.02 564.97 126.28 566.22 128.53 567.47 130.79 568.72 133.04 569.97 135.29 571.22 137.53 572.47 139.77 573.72 142.00 574.97 144.23 576.22 146.45 577.47 148.67 578.72 150.87 579.97 153.06 581.22 155.24 582.47 157.41 583.72 159.55 584.97 161.69 586.22 163.81 587.47 165.92 588.72 168.01 589.97 170.09 591.22 172.16 592.47 174.21 593.72 176.25 594.97 178.28 596.22 180.29 597.47 182.29 598.72 184.27 599.97 186.24 601.22 188.20 602.47 190.15 603.72 192.08 604.97 194.00 606.22 195.90 607.47 197.80 608.72 199.68 609.97 201.54 611.22 203.40 612.47 205.23 613.72 207.05 614.97 208.86 616.22 210.64 617.47 212.41 618.72 214.17 619.97 215.90 621.22 217.62 622.47 219.32 623.72 221.00 624.97 222.67 626.22 224.32 627.47 225.95 628.72 227.56 629.97 229.15 631.22 230.73 632.47 232.29 633.72 233.83 634.97 235.36 636.22 236.87 637.47 238.36 638.72 239.83 639.97 241.29 641.22 242.73 642.47 244.15 643.72 245.56 644.97 246.96 646.22 248.34 647.47 249.70 648.72 251.05 649.97 252.39 651.22 253.71 652.47 255.02 653.72 256.31 654.97 257.59 656.22 258.85 657.47 260.10 658.72 261.34 659.97 262.56 661.22 263.77 662.47 264.97 663.72 266.15 664.97 267.32 666.22 268.48 667.47 269.62 668.72 270.75 669.97 271.87 671.22 272.98 672.47 274.08 673.72 275.16 674.97 276.23 676.22 277.29 677.47 278.34 678.72 279.38 679.97 280.41 681.22 281.42 682.47 282.43 683.72 283.42 684.97 284.40 686.22 285.37 687.47 286.34 688.72 287.29 689.97 288.23 691.22 289.16 692.47 290.08 693.72 290.99 694.97 291.90 696.22 292.79 697.47 293.67 698.72 294.55 699.97 295.41 701.22 296.27 702.47 297.12 703.72 297.96 704.97 298.79 706.22 299.61 707.47 300.42 708.72 301.23 709.97 302.02 711.22 302.81 712.47 303.60 713.72 304.37 714.97 305.14 716.22 305.90 717.47 306.65 718.72 307.40 719.97 308.14 721.22 308.87 722.47 309.59 723.72 310.31 724.97 311.03 726.22 311.73 727.47 312.43 728.72 313.12 729.97 313.81 731.22 314.49 732.47 315.17 733.72 315.84 734.97 316.50 736.22 317.16 737.47 317.82 738.72 318.46 739.97 319.11 741.22 319.74 742.47 320.37 743.72 321.00 744.97 321.62 746.22 322.24 747.47 322.85 748.72 323.46 749.97 324.06 751.22 324.66 752.47 325.27 753.72 325.87 754.97 326.48 756.22 327.09 757.47 327.70 758.72 328.31 759.97 328.91 761.22 329.51 762.47 330.11 763.72 330.71 764.97 331.29 766.22 331.88 767.47 332.45 768.72 333.02 769.97 333.57 771.22 334.12 772.47 334.65 773.72 335.18 774.97 335.69 776.22 336.19 777.47 336.68 778.72 337.16 779.97 337.64 781.22 338.12 782.30 338.53" stroke="#00ff00" stroke-width="5.3" stroke-linecap="square" stroke-dasharray="2.7 9.3 9.6 9.3"/>
<path d="M158.72 451.24 159.97 451.20 161.22 451.16 162.47 451.11 163.72 451.07 164.97 451.03 166.22 450.98 167.47 450.93 168.72 450.89 169.97 450.84 171.22 450.79 172.47 450.74 173.72 450.69 174.97 450.64 176.22 450.59 177.47 450.54 178.72 450.48 179.97 450.43 181.22 450.37 182.47 450.31 183.72 450.25 184.97 450.19 186.22 450.13 187.47 450.07 188.72 450.01 189.97 449.94 191.22 449.87 192.47 449.80 193.72 449.73 194.97 449.66 196.22 449.59 197.47 449.51 198.72 449.43 199.97 449.35 201.22 449.27 202.47 449.19 203.72 449.10 204.97 449.02 206.22 448.93 207.47 448.83 208.72 448.74 209.97 448.64 211.22 448.54 212.47 448.44 213.72 448.34 214.97 448.23 216.22 448.12 217.47 448.01 218.72 447.89 219.97 447.77 221.22 447.65 222.47 447.52 223.72 447.40 224.97 447.26 226.22 447.13 227.47 446.99 228.72 446.85 229.97 446.70 231.22 446.55 232.47 446.40 233.72 446.24 234.97 446.08 236.22 445.91 237.47 445.74 238.72 445.57 239.97 445.39 241.22 445.21 242.47 445.02 243.72 444.83 244.97 444.63 246.22 444.43 247.47 444.22 248.72 444.00 249.97 443.79 251.22 443.56 252.47 443.33 253.72 443.09 254.97 442.85 256.22 442.60 257.47 442.35 258.72 442.09 259.97 441.82 261.22 441.55 262.47 441.26 263.72 440.98 264.97 440.68 266.22 440.38 267.47 440.07 268.72 439.75 269.97 439.43 271.22 439.10 272.47 438.76 273.72 438.41 274.97 438.05 276.22 437.69 277.47 437.31 278.72 436.93 279.97 436.54 281.22 436.14 282.47 435.73 283.72 435.32 284.97 434.89 286.22 434.45 287.47 434.01 288.72 433.55 289.97 433.08 291.22 432.61 292.47 432.12 293.72 431.62 294.97 431.11 296.22 430.59 297.47 430.06 298.72 429.51 299.97 428.95 301.22 428.37 302.47 427.79 303.72 427.18 304.97 426.56 306.22 425.93 307.47 425.28 308.72 424.62 309.97 423.94 311.22 423.25 312.47 422.54 313.72 421.81 314.97 421.06 316.22 420.30 317.47 419.53 318.72 418.73 319.97 417.92 321.22 417.09 322.47 416.24 323.72 415.37 324.97 414.48 326.22 413.58 327.47 412.65 328.72 411.71 329.97 410.74 331.22 409.76 332.47 408.75 333.72 407.73 334.97 406.69 336.22 405.62 337.47 404.53 338.72 403.43 339.97 402.30 341.22 401.15 342.47 399.98 343.72 398.78 344.97 397.57 346.22 396.33 347.47 395.07 348.72 393.78 349.97 392.46 351.22 391.11 352.47 389.74 353.72 388.34 354.97 386.90 356.22 385.44 357.47 383.95 358.72 382.43 359.97 380.87 361.22 379.29 362.47 377.67 363.72 376.02 364.97 374.33 366.22 372.61 367.47 370.86 368.72 369.07 369.97 367.25 371.22 365.39 372.47 363.50 373.72 361.57 374.97 359.60 376.22 357.59 377.47 355.55 378.72 353.46 379.97 351.34 381.22 349.18 382.47 346.98 383.72 344.74 384.97 342.46 386.22 340.14 387.47 337.78 388.72 335.38 389.97 332.93 391.22 330.44 392.47 327.92 393.72 325.35 394.97 322.73 396.22 320.08 397.47 317.38 398.72 314.64 399.97 311.85 401.22 309.03 402.47 306.16 403.72 303.25 404.97 300.30 406.22 297.30 407.47 294.27 408.72 291.19 409.97 288.07 411.22 284.91 412.47 281.72 413.72 278.48 414.97 275.20 416.22 271.89 417.47 268.54 418.72 265.15 419.97 261.73 421.22 258.27 422.47 254.78 423.72 251.25 424.97 247.70 426.22 244.12 427.47 240.51 428.72 236.87 429.97 233.21 431.22 229.52 432.47 225.81 433.72 222.08 434.97 218.34 436.22 214.58 437.47 210.80 438.72 207.02 439.97 203.22 441.22 199.42 442.47 195.61 443.72 191.81 444.97 188.00 446.22 184.19 447.47 180.40 448.72 176.61 449.97 172.83 451.22 169.07 452.47 165.32 453.72 161.60 454.97 157.90 456.22 154.23 457.47 150.58 458.72 146.97 459.97 143.40 461.22 139.87 462.47 136.38 463.72 132.93 464.97 129.53 466.22 126.19 467.47 122.90 468.72 119.67 469.97 116.50 471.22 113.40 472.47 110.36 473.72 107.40 474.97 104.53 476.22 101.73 477.47 99.03 478.72 96.41 479.97 93.87 481.22 91.42 482.47 89.06 483.72 86.80 484.97 84.62 486.22 82.53 487.47 80.54 488.72 78.64 489.97 76.84 491.22 75.13 492.47 73.52 493.72 72.01 494.97 70.60 496.22 69.28 497.47 68.07 498.72 66.95 499.97 65.94 501.22 65.02 502.47 64.21 503.72 63.49 504.97 62.88 506.22 62.36 507.47 61.94 508.72 61.62 509.97 61.40 511.22 61.27 512.47 61.24 513.72 61.30 514.97 61.45 516.22 61.69 517.47 62.02 518.72 62.43 519.97 62.93 521.22 63.51 522.47 64.17 523.72 64.91 524.97 65.73 526.22 66.62 527.47 67.58 528.72 68.61 529.97 69.72 531.22 70.88 532.47 72.11 533.72 73.41 534.97 74.76 536.22 76.16 537.47 77.62 538.72 79.12 539.97 80.68 541.22 82.28 542.47 83.93 543.72 85.61 544.97 87.34 546.22 89.11 547.47 90.90 548.72 92.74 549.97 94.60 551.22 96.50 552.47 98.42 553.72 100.37 554.97 102.34 556.22 104.33 557.47 106.35 558.72 108.38 559.97 110.43 561.22 112.50 562.47 114.57 563.72 116.65 564.97 118.74 566.22 120.83 567.47 122.92 568.72 125.03 569.97 127.13 571.22 129.24 572.47 131.35 573.72 133.46 574.97 135.57 576.22 137.68 577.47 139.80 578.72 141.91 579.97 144.02 581.22 146.14 582.47 148.25 583.72 150.36 584.97 152.46 586.22 154.56 587.47 156.65 588.72 158.73 589.97 160.80 591.22 162.86 592.47 164.91 593.72 166.95 594.97 168.98 596.22 171.00 597.47 173.01 598.72 175.01 599.97 176.99 601.22 178.97 602.47 180.93 603.72 182.88 604.97 184.82 606.22 186.74 607.47 188.65 608.72 190.55 609.97 192.43 611.22 194.31 612.47 196.17 613.72 198.01 614.97 199.84 616.22 201.66 617.47 203.46 618.72 205.25 619.97 207.02 621.22 208.78 622.47 210.52 623.72 212.25 624.97 213.96 626.22 215.65 627.47 217.33 628.72 218.99 629.97 220.63 631.22 222.26 632.47 223.88 633.72 225.48 634.97 227.06 636.22 228.63 637.47 230.18 638.72 231.71 639.97 233.23 641.22 234.73 642.47 236.22 643.72 237.69 644.97 239.15 646.22 240.59 647.47 242.02 648.72 243.44 649.97 244.86 651.22 246.26 652.47 247.66 653.72 249.05 654.97 250.41 656.22 251.76 657.47 253.09 658.72 254.40 659.97 255.69 661.22 256.98 662.47 258.25 663.72 259.50 664.97 260.74 666.22 261.97 667.47 263.19 668.72 264.39 669.97 265.58 671.22 266.76 672.47 267.92 673.72 269.07 674.97 270.21 676.22 271.34 677.47 272.45 678.72 273.56 679.97 274.65 681.22 275.73 682.47 276.79 683.72 277.85 684.97 278.89 686.22 279.93 687.47 280.95 688.72 281.96 689.97 282.96 691.22 283.95 692.47 284.93 693.72 285.89 694.97 286.85 696.22 287.80 697.47 288.74 698.72 289.66 699.97 290.58 701.22 291.49 702.47 292.39 703.72 293.27 704.97 294.15 706.22 295.02 707.47 295.88 708.72 296.73 709.97 297.58 711.22 298.41 712.47 299.24 713.72 300.06 714.97 300.87 716.22 301.67 717.47 302.46 718.72 303.24 719.97 304.02 721.22 304.79 722.47 305.55 723.72 306.31 724.97 307.05 726.22 307.79 727.47 308.52 728.72 309.25 729.97 309.97 731.22 310.68 732.47 311.38 733.72 312.08 734.97 312.77 736.22 313.45 737.47 314.13 738.72 314.80 739.97 315.47 741.22 316.13 742.47 316.78 743.72 317.43 744.97 318.07 746.22 318.70 747.47 319.33 748.72 319.95 749.97 320.57 751.22 321.18 752.47 321.79 753.72 322.39 754.97 322.99 756.22 323.58 757.47 324.16 758.72 324.74 759.97 325.32 761.22 325.89 762.47 326.46 763.72 327.02 764.97 327.57 766.22 328.12 767.47 328.67 768.72 329.21 769.97 329.75 771.22 330.28 772.47 330.81 773.72 331.33 774.97 331.85 776.22 332.37 777.47 332.88 778.72 333.39 779.97 333.89 781.22 334.39 782.30 334.82" stroke="#808080" stroke-width="5.3" stroke-linecap="square" stroke-dasharray="2.7 9.3 9.6 9.3"/>
<path d="M158.72 451.64 159.97 451.60 161.22 451.56 162.47 451.53 163.72 451.49 164.97 451.45 166.22 451.41 167.47 451.37 168.72 451.33 169.97 451.29 171.22 451.24 172.47 451.20 173.72 451.15 174.97 451.10 176.22 451.06 177.47 451.01 178.72 450.95 179.97 450.90 181.22 450.85 182.47 450.79 183.72 450.74 184.97 450.68 186.22 450.62 187.47 450.56 188.72 450.50 189.97 450.44 191.22 450.37 192.47 450.31 193.72 450.24 194.97 450.17 196.22 450.10 197.47 450.03 198.72 449.95 199.97 449.88 201.22 449.80 202.47 449.72 203.72 449.64 204.97 449.56 206.22 449.47 207.47 449.39 208.72 449.30 209.97 449.21 211.22 449.11 212.47 449.02 213.72 448.92 214.97 448.82 216.22 448.72 217.47 448.62 218.72 448.51 219.97 448.40 221.22 448.29 222.47 448.18 223.72 448.06 224.97 447.94 226.22 447.82 227.47 447.70 228.72 447.57 229.97 447.44 231.22 447.31 232.47 447.17 233.72 447.03 234.97 446.89 236.22 446.75 237.47 446.60 238.72 446.45 239.97 446.29 241.22 446.13 242.47 445.97 243.72 445.81 244.97 445.64 246.22 445.46 247.47 445.29 248.72 445.10 249.97 444.92 251.22 444.73 252.47 444.54 253.72 444.34 254.97 444.14 256.22 443.93 257.47 443.72 258.72 443.50 259.97 443.28 261.22 443.05 262.47 442.82 263.72 442.58 264.97 442.34 266.22 442.09 267.47 441.84 268.72 441.58 269.97 441.31 271.22 441.04 272.47 440.77 273.72 440.48 274.97 440.19 276.22 439.90 277.47 439.59 278.72 439.28 279.97 438.97 281.22 438.64 282.47 438.31 283.72 437.98 284.97 437.63 286.22 437.28 287.47 436.92 288.72 436.55 289.97 436.17 291.22 435.79 292.47 435.39 293.72 434.99 294.97 434.58 296.22 434.16 297.47 433.73 298.72 433.29 299.97 432.84 301.22 432.38 302.47 431.91 303.72 431.42 304.97 430.93 306.22 430.43 307.47 429.92 308.72 429.39 309.97 428.85 311.22 428.30 312.47 427.74 313.72 427.17 314.97 426.58 316.22 425.98 317.47 425.37 318.72 424.74 319.97 424.10 321.22 423.45 322.47 422.78 323.72 422.10 324.97 421.40 326.22 420.69 327.47 419.96 328.72 419.21 329.97 418.45 331.22 417.67 332.47 416.88 333.72 416.06 334.97 415.23 336.22 414.39 337.47 413.52 338.72 412.63 339.97 411.73 341.22 410.81 342.47 409.86 343.72 408.90 344.97 407.92 346.22 406.91 347.47 405.89 348.72 404.84 349.97 403.77 351.22 402.67 352.47 401.55 353.72 400.41 354.97 399.23 356.22 398.03 357.47 396.80 358.72 395.55 359.97 394.28 361.22 392.99 362.47 391.67 363.72 390.33 364.97 388.96 366.22 387.56 367.47 386.14 368.72 384.68 369.97 383.20 371.22 381.69 372.47 380.15 373.72 378.57 374.97 376.97 376.22 375.34 377.47 373.67 378.72 371.98 379.97 370.25 381.22 368.49 382.47 366.70 383.72 364.87 384.97 363.01 386.22 361.11 387.47 359.19 388.72 357.22 389.97 355.22 391.22 353.19 392.47 351.12 393.72 349.01 394.97 346.87 396.22 344.69 397.47 342.48 398.72 340.22 399.97 337.93 401.22 335.61 402.47 333.24 403.72 330.84 404.97 328.40 406.22 325.92 407.47 323.40 408.72 320.85 409.97 318.26 411.22 315.63 412.47 312.96 413.72 310.25 414.97 307.51 416.22 304.73 417.47 301.91 418.72 299.06 419.97 296.17 421.22 293.24 422.47 290.28 423.72 287.28 424.97 284.25 426.22 281.18 427.47 278.08 428.72 274.95 429.97 271.79 431.22 268.59 432.47 265.37 433.72 262.11 434.97 258.83 436.22 255.52 437.47 252.18 438.72 248.82 439.97 245.44 441.22 242.03 442.47 238.61 443.72 235.16 444.97 231.70 446.22 228.22 447.47 224.72 448.72 221.22 449.97 217.70 451.22 214.17 452.47 210.64 453.72 207.10 454.97 203.56 456.22 200.02 457.47 196.48 458.72 192.94 459.97 189.41 461.22 185.89 462.47 182.38 463.72 178.88 464.97 175.40 466.22 171.93 467.47 168.49 468.72 165.07 469.97 161.68 471.22 158.31 472.47 154.98 473.72 151.68 474.97 148.42 476.22 145.19 477.47 142.01 478.72 138.87 479.97 135.78 481.22 132.74 482.47 129.75 483.72 126.81 484.97 123.94 486.22 121.12 487.47 118.36 488.72 115.67 489.97 113.04 491.22 110.48 492.47 107.99 493.72 105.57 494.97 103.22 496.22 100.95 497.47 98.76 498.72 96.65 499.97 94.61 501.22 92.66 502.47 90.79 503.72 89.00 504.97 87.30 506.22 85.68 507.47 84.15 508.72 82.71 509.97 81.35 511.22 80.08 512.47 78.90 513.72 77.81 514.97 76.80 516.22 75.88 517.47 75.05 518.72 74.31 519.97 73.66 521.22 73.09 522.47 72.60 523.72 72.20 524.97 71.89 526.22 71.66 527.47 71.51 528.72 71.44 529.97 71.46 531.22 71.55 532.47 71.71 533.72 71.96 534.97 72.28 536.22 72.67 537.47 73.13 538.72 73.66 539.97 74.25 541.22 74.91 542.47 75.64 543.72 76.43 544.97 77.27 546.22 78.18 547.47 79.14 548.72 80.15 549.97 81.22 551.22 82.34 552.47 83.51 553.72 84.72 554.97 85.98 556.22 87.29 557.47 88.63 558.72 90.02 559.97 91.44 561.22 92.91 562.47 94.41 563.72 95.94 564.97 97.51 566.22 99.10 567.47 100.73 568.72 102.39 569.97 104.07 571.22 105.79 572.47 107.52 573.72 109.28 574.97 111.07 576.22 112.87 577.47 114.69 578.72 116.53 579.97 118.38 581.22 120.25 582.47 122.13 583.72 124.02 584.97 125.92 586.22 127.83 587.47 129.75 588.72 131.68 589.97 133.62 591.22 135.56 592.47 137.52 593.72 139.47 594.97 141.43 596.22 143.40 597.47 145.37 598.72 147.35 599.97 149.32 601.22 151.30 602.47 153.28 603.72 155.26 604.97 157.24 606.22 159.21 607.47 161.18 608.72 163.15 609.97 165.11 611.22 167.07 612.47 169.03 613.72 170.97 614.97 172.91 616.22 174.84 617.47 176.77 618.72 178.68 619.97 180.59 621.22 182.49 622.47 184.37 623.72 186.25 624.97 188.12 626.22 189.97 627.47 191.82 628.72 193.65 629.97 195.47 631.22 197.27 632.47 199.07 633.72 200.85 634.97 202.62 636.22 204.37 637.47 206.11 638.72 207.84 639.97 209.55 641.22 211.25 642.47 212.94 643.72 214.61 644.97 216.26 646.22 217.90 647.47 219.53 648.72 221.14 649.97 222.73 651.22 224.32 652.47 225.88 653.72 227.43 654.97 228.97 656.22 230.48 657.47 231.97 658.72 233.43 659.97 234.87 661.22 236.31 662.47 237.74 663.72 239.16 664.97 240.56 666.22 241.96 667.47 243.34 668.72 244.70 669.97 246.06 671.22 247.40 672.47 248.73 673.72 250.04 674.97 251.34 676.22 252.63 677.47 253.91 678.72 255.17 679.97 256.42 681.22 257.66 682.47 258.89 683.72 260.11 684.97 261.31 686.22 262.50 687.47 263.68 688.72 264.85 689.97 266.01 691.22 267.16 692.47 268.29 693.72 269.42 694.97 270.53 696.22 271.63 697.47 272.73 698.72 273.81 699.97 274.88 701.22 275.94 702.47 276.99 703.72 278.04 704.97 279.07 706.22 280.09 707.47 281.10 708.72 282.10 709.97 283.10 711.22 284.08 712.47 285.06 713.72 286.02 714.97 286.98 716.22 287.93 717.47 288.87 718.72 289.80 719.97 290.72 721.22 291.64 722.47 292.54 723.72 293.44 724.97 294.32 726.22 295.20 727.47 296.07 728.72 296.93 729.97 297.79 731.22 298.63 732.47 299.47 733.72 300.30 734.97 301.12 736.22 301.93 737.47 302.73 738.72 303.53 739.97 304.32 741.22 305.10 742.47 305.87 743.72 306.63 744.97 307.39 746.22 308.14 747.47 308.88 748.72 309.61 749.97 310.34 751.22 311.06 752.47 311.77 753.72 312.48 754.97 313.17 756.22 313.87 757.47 314.55 758.72 315.23 759.97 315.89 761.22 316.56 762.47 317.21 763.72 317.86 764.97 318.50 766.22 319.14 767.47 319.77 768.72 320.39 769.97 321.01 771.22 321.62 772.47 322.22 773.72 322.82 774.97 323.41 776.22 323.99 777.47 324.58 778.72 325.15 779.97 325.72 781.22 326.29 782.30 326.77" stroke="#ff8000" stroke-width="5.3" stroke-linecap="square" stroke-dasharray="2.7 9.3 9.6 9.3"/>
<path d="M158.72 452.03 159.97 452.00 161.22 451.97 162.47 451.93 163.72 451.88 164.97 451.83 166.22 451.78 167.47 451.72 168.72 451.66 169.97 451.60 171.22 451.53 172.47 451.47 173.72 451.42 174.97 451.36 176.22 451.31 177.47 451.26 178.72 451.20 179.97 451.15 181.22 451.10 182.47 451.04 183.72 450.99 184.97 450.93 186.22 450.88 187.47 450.82 188.72 450.76 189.97 450.71 191.22 450.65 192.47 450.59 193.72 450.52 194.97 450.46 196.22 450.40 197.47 450.33 198.72 450.27 199.97 450.20 201.22 450.13 202.47 450.06 203.72 449.99 204.97 449.92 206.22 449.85 207.47 449.77 208.72 449.70 209.97 449.62 211.22 449.54 212.47 449.46 213.72 449.38 214.97 449.29 216.22 449.20 217.47 449.12 218.72 449.03 219.97 448.93 221.22 448.84 222.47 448.74 223.72 448.65 224.97 448.55 226.22 448.44 227.47 448.34 228.72 448.23 229.97 448.12 231.22 448.01 232.47 447.89 233.72 447.78 234.97 447.66 236.22 447.53 237.47 447.41 238.72 447.28 239.97 447.15 241.22 447.01 242.47 446.87 243.72 446.73 244.97 446.59 246.22 446.44 247.47 446.29 248.72 446.13 249.97 445.98 251.22 445.81 252.47 445.65 253.72 445.48 254.97 445.30 256.22 445.12 257.47 444.94 258.72 444.75 259.97 444.56 261.22 444.36 262.47 444.16 263.72 443.95 264.97 443.74 266.22 443.52 267.47 443.30 268.72 443.07 269.97 442.84 271.22 442.60 272.47 442.36 273.72 442.11 274.97 441.86 276.22 441.60 277.47 441.34 278.72 441.07 279.97 440.80 281.22 440.52 282.47 440.23 283.72 439.94 284.97 439.64 286.22 439.34 287.47 439.03 288.72 438.72 289.97 438.39 291.22 438.07 292.47 437.73 293.72 437.39 294.97 437.05 296.22 436.69 297.47 436.33 298.72 435.96 299.97 435.58 301.22 435.20 302.47 434.80 303.72 434.40 304.97 433.99 306.22 433.57 307.47 433.14 308.72 432.70 309.97 432.25 311.22 431.79 312.47 431.31 313.72 430.83 314.97 430.34 316.22 429.84 317.47 429.32 318.72 428.80 319.97 428.26 321.22 427.71 322.47 427.15 323.72 426.58 324.97 425.99 326.22 425.40 327.47 424.78 328.72 424.16 329.97 423.52 331.22 422.87 332.47 422.20 333.72 421.52 334.97 420.82 336.22 420.11 337.47 419.38 338.72 418.64 339.97 417.88 341.22 417.11 342.47 416.32 343.72 415.51 344.97 414.68 346.22 413.84 347.47 412.98 348.72 412.10 349.97 411.21 351.22 410.29 352.47 409.35 353.72 408.40 354.97 407.43 356.22 406.45 357.47 405.45 358.72 404.44 359.97 403.40 361.22 402.35 362.47 401.28 363.72 400.18 364.97 399.06 366.22 397.94 367.47 396.81 368.72 395.66 369.97 394.49 371.22 393.29 372.47 392.06 373.72 390.79 374.97 389.46 376.22 388.10 377.47 386.70 378.72 385.28 379.97 383.83 381.22 382.36 382.47 380.85 383.72 379.32 384.97 377.76 386.22 376.17 387.47 374.55 388.72 372.89 389.97 371.21 391.22 369.50 392.47 367.76 393.72 365.98 394.97 364.18 396.22 362.34 397.47 360.47 398.72 358.57 399.97 356.63 401.22 354.66 402.47 352.66 403.72 350.63 404.97 348.56 406.22 346.46 407.47 344.32 408.72 342.15 409.97 339.95 411.22 337.71 412.47 335.44 413.72 333.13 414.97 330.79 416.22 328.41 417.47 326.00 418.72 323.56 419.97 321.08 421.22 318.56 422.47 316.02 423.72 313.44 424.97 310.82 426.22 308.17 427.47 305.49 428.72 302.78 429.97 300.03 431.22 297.25 432.47 294.44 433.72 291.60 434.97 288.73 436.22 285.82 437.47 282.89 438.72 279.93 439.97 276.94 441.22 273.92 442.47 270.88 443.72 267.80 444.97 264.71 446.22 261.59 447.47 258.44 448.72 255.27 449.97 252.08 451.22 248.87 452.47 245.64 453.72 242.40 454.97 239.13 456.22 235.85 457.47 232.55 458.72 229.25 459.97 225.92 461.22 222.59 462.47 219.25 463.72 215.90 464.97 212.55 466.22 209.19 467.47 205.83 468.72 202.46 469.97 199.10 471.22 195.74 472.47 192.38 473.72 189.03 474.97 185.69 476.22 182.35 477.47 179.03 478.72 175.72 479.97 172.42 481.22 169.14 482.47 165.88 483.72 162.64 484.97 159.43 486.22 156.23 487.47 153.07 488.72 149.93 489.97 146.82 491.22 143.75 492.47 140.71 493.72 137.70 494.97 134.74 496.22 131.81 497.47 128.93 498.72 126.09 499.97 123.29 501.22 120.55 502.47 117.85 503.72 115.20 504.97 112.61 506.22 110.07 507.47 107.58 508.72 105.16 509.97 102.79 511.22 100.48 512.47 98.24 513.72 96.06 514.97 93.94 516.22 91.89 517.47 89.90 518.72 87.99 519.97 86.14 521.22 84.36 522.47 82.65 523.72 81.02 524.97 79.45 526.22 77.97 527.47 76.55 528.72 75.21 529.97 73.94 531.22 72.75 532.47 71.63 533.72 70.59 534.97 69.61 536.22 68.71 537.47 67.89 538.72 67.13 539.97 66.46 541.22 65.86 542.47 65.33 543.72 64.89 544.97 64.52 546.22 64.23 547.47 64.01 548.72 63.87 549.97 63.80 551.22 63.81 552.47 63.89 553.72 64.03 554.97 64.25 556.22 64.54 557.47 64.89 558.72 65.31 559.97 65.80 561.22 66.35 562.47 66.96 563.72 67.64 564.97 68.37 566.22 69.17 567.47 70.02 568.72 70.93 569.97 71.90 571.22 72.92 572.47 73.99 573.72 75.12 574.97 76.29 576.22 77.51 577.47 78.78 578.72 80.10 579.97 81.46 581.22 82.86 582.47 84.30 583.72 85.78 584.97 87.30 586.22 88.85 587.47 90.44 588.72 92.05 589.97 93.71 591.22 95.39 592.47 97.09 593.72 98.83 594.97 100.59 596.22 102.37 597.47 104.17 598.72 106.00 599.97 107.84 601.22 109.70 602.47 111.57 603.72 113.46 604.97 115.37 606.22 117.29 607.47 119.22 608.72 121.16 609.97 123.12 611.22 125.08 612.47 127.05 613.72 129.03 614.97 131.01 616.22 133.00 617.47 134.99 618.72 136.99 619.97 138.99 621.22 140.99 622.47 142.99 623.72 144.99 624.97 146.99 626.22 148.99 627.47 150.99 628.72 152.98 629.97 154.97 631.22 156.95 632.47 158.93 633.72 160.90 634.97 162.87 636.22 164.83 637.47 166.79 638.72 168.73 639.97 170.67 641.22 172.60 642.47 174.51 643.72 176.42 644.97 178.32 646.22 180.21 647.47 182.09 648.72 183.96 649.97 185.82 651.22 187.66 652.47 189.49 653.72 191.31 654.97 193.12 656.22 194.92 657.47 196.70 658.72 198.47 659.97 200.23 661.22 201.97 662.47 203.70 663.72 205.42 664.97 207.12 666.22 208.81 667.47 210.49 668.72 212.15 669.97 213.80 671.22 215.43 672.47 217.05 673.72 218.66 674.97 220.25 676.22 221.83 677.47 223.39 678.72 224.94 679.97 226.48 681.22 228.00 682.47 229.50 683.72 231.00 684.97 232.48 686.22 233.94 687.47 235.39 688.72 236.83 689.97 238.25 691.22 239.66 692.47 241.06 693.72 242.44 694.97 243.81 696.22 245.16 697.47 246.50 698.72 247.83 699.97 249.14 701.22 250.45 702.47 251.73 703.72 253.01 704.97 254.27 706.22 255.52 707.47 256.76 708.72 257.98 709.97 259.20 711.22 260.40 712.47 261.58 713.72 262.76 714.97 263.92 716.22 265.07 717.47 266.21 718.72 267.34 719.97 268.46 721.22 269.56 722.47 270.65 723.72 271.74 724.97 272.81 726.22 273.87 727.47 274.92 728.72 275.95 729.97 276.98 731.22 278.00 732.47 279.00 733.72 280.00 734.97 280.99 736.22 281.96 737.47 282.93 738.72 283.88 739.97 284.83 741.22 285.76 742.47 286.69 743.72 287.61 744.97 288.52 746.22 289.41 747.47 290.30 748.72 291.18 749.97 292.06 751.22 292.92 752.47 293.77 753.72 294.62 754.97 295.45 756.22 296.28 757.47 297.10 758.72 297.91 759.97 298.72 761.22 299.51 762.47 300.30 763.72 301.08 764.97 301.85 766.22 302.62 767.47 303.37 768.72 304.12 769.97 304.86 771.22 305.60 772.47 306.32 773.72 307.04 774.97 307.76 776.22 308.46 777.47 309.16 778.72 309.86 779.97 310.54 781.22 311.22 782.30 311.81" stroke="#0000ff" stroke-width="5.3" stroke-linecap="square" stroke-dasharray="2.7 9.3 9.6 9.3"/>
</g>
<g stroke="#000" fill="none">
<rect x="113.9" y="1.25" width="712.6" height="475.6" stroke-width="2.5"/>
<path d="M115 472.14h4.0 M115 453.10h7.6 M115 434.06h4.0 M115 415.02h4.0 M115 395.98h4.0 M115 376.94h7.6 M115 357.90h4.0 M115 338.86h4.0 M115 319.82h4.0 M115 300.78h7.6 M115 281.74h4.0 M115 262.70h4.0 M115 243.66h4.0 M115 224.62h7.6 M115 205.58h4.0 M115 186.54h4.0 M115 167.50h4.0 M115 148.46h7.6 M115 129.42h4.0 M115 110.38h4.0 M115 91.34h4.0 M115 72.30h7.6 M115 53.26h4.0 M115 34.22h4.0 M115 15.18h4.0" stroke-width="2.3"/>
<path d="M122.12 476v-2.8 M131.97 476v-2.8 M140.29 476v-2.8 M147.51 476v-2.8 M153.87 476v-2.8 M159.56 476v-6.0 M197.00 476v-2.8 M218.90 476v-2.8 M234.44 476v-2.8 M246.50 476v-2.8 M256.34 476v-2.8 M264.67 476v-2.8 M271.88 476v-2.8 M278.25 476v-2.8 M283.94 476v-6.0 M321.38 476v-2.8 M343.28 476v-2.8 M358.82 476v-2.8 M370.87 476v-2.8 M380.72 476v-2.8 M389.05 476v-2.8 M396.26 476v-2.8 M402.62 476v-2.8 M408.32 476v-6.0 M445.76 476v-2.8 M467.66 476v-2.8 M483.20 476v-2.8 M495.25 476v-2.8 M505.10 476v-2.8 M513.43 476v-2.8 M520.64 476v-2.8 M527.00 476v-2.8 M532.69 476v-6.0 M570.14 476v-2.8 M592.04 476v-2.8 M607.58 476v-2.8 M619.63 476v-2.8 M629.48 476v-2.8 M637.81 476v-2.8 M645.02 476v-2.8 M651.38 476v-2.8 M657.07 476v-6.0 M694.51 476v-2.8 M716.42 476v-2.8 M731.96 476v-2.8 M744.01 476v-2.8 M753.86 476v-2.8 M762.18 476v-2.8 M769.40 476v-2.8 M775.76 476v-2.8 M781.45 476v-6.0 M818.89 476v-2.8" stroke-width="0.65" stroke="#111"/>
</g>
<g font-size="30.75px" style="text-rendering:geometricPrecision" opacity="0.999">
<text transform="translate(158.7 514.8) scale(1 1.045)" text-anchor="middle">0.001</text>
<text transform="translate(283.0 514.8) scale(1 1.045)" text-anchor="middle">0.010</text>
<text transform="translate(407.4 514.8) scale(1 1.045)" text-anchor="middle">0.100</text>
<text transform="translate(531.8 514.8) scale(1 1.045)" text-anchor="middle">1</text>
<text transform="translate(656.2 514.8) scale(1 1.045)" text-anchor="middle">10</text>
<text transform="translate(780.6 514.8) scale(1 1.045)" text-anchor="middle">100</text>
<text transform="translate(106.6 464.7) scale(1 1.045)" text-anchor="end">0.0</text>
<text transform="translate(106.6 388.5) scale(1 1.045)" text-anchor="end">0.2</text>
<text transform="translate(106.6 312.4) scale(1 1.045)" text-anchor="end">0.4</text>
<text transform="translate(106.6 236.2) scale(1 1.045)" text-anchor="end">0.6</text>
<text transform="translate(106.6 160.1) scale(1 1.045)" text-anchor="end">0.8</text>
<text transform="translate(106.6 83.9) scale(1 1.045)" text-anchor="end">1.0</text>
<path d="M125.8 54.25H170.9" stroke="#000000" stroke-width="4" fill="none"/>
<text transform="translate(191 65.00) scale(1 1.045)"><tspan font-style="italic">ξ</tspan><tspan dx="-1.2" dy="1.9">=</tspan><tspan dx="1.2" dy="-1.9">0</tspan></text>
<path d="M125.8 104.15H170.9" stroke="#ff0000" stroke-width="4" fill="none"/>
<text transform="translate(191 114.90) scale(1 1.045)"><tspan font-style="italic">ξ</tspan><tspan dx="-1.2" dy="1.9">=</tspan><tspan dx="1.2" dy="-1.9">0.2</tspan></text>
<path d="M125.8 154.05H170.9" stroke="#00ff00" stroke-width="4" fill="none"/>
<text transform="translate(191 164.80) scale(1 1.045)"><tspan font-style="italic">ξ</tspan><tspan dx="-1.2" dy="1.9">=</tspan><tspan dx="1.2" dy="-1.9">0.5</tspan></text>
<path d="M125.8 203.95H170.9" stroke="#808080" stroke-width="4" fill="none"/>
<text transform="translate(191 214.70) scale(1 1.045)"><tspan font-style="italic">ξ</tspan><tspan dx="-1.2" dy="1.9">=</tspan><tspan dx="1.2" dy="-1.9">1</tspan></text>
<path d="M125.8 253.85H170.9" stroke="#ff8000" stroke-width="4" fill="none"/>
<text transform="translate(191 264.60) scale(1 1.045)"><tspan font-style="italic">ξ</tspan><tspan dx="-1.2" dy="1.9">=</tspan><tspan dx="1.2" dy="-1.9">2</tspan></text>
<path d="M125.8 303.75H170.9" stroke="#0000ff" stroke-width="4" fill="none"/>
<text transform="translate(191 314.50) scale(1 1.045)"><tspan font-style="italic">ξ</tspan><tspan dx="-1.2" dy="1.9">=</tspan><tspan dx="1.2" dy="-1.9">3</tspan></text>
<text x="408.65" y="567.5" font-style="italic">p</text>
<text x="425.35" y="554.5" font-size="21.8px">2</text>
<path transform="translate(441 567.6)" d="M7.7 -27.1Q-7.7 -8.1 7.7 10.9L8.5 10.3Q-3.6 -8.1 8.5 -26.5Z"/>
<text x="448.4" y="567.6" font-size="31px" class="se">GeV</text>
<text x="508.1" y="557.5" font-size="21.8px" class="se">2</text>
<path transform="translate(531.2 567.6)" d="M-7.7 -27.1Q7.7 -8.1 -7.7 10.9L-8.5 10.3Q3.6 -8.1 -8.5 -26.5Z"/>
<g transform="translate(38.2 301.45) rotate(-90)">
<text x="0" y="0" font-style="italic">p</text>
<text x="15.95" y="-13.2" font-size="21.8px">2</text>
<text x="36.35" y="0" font-style="italic">G</text>
<text x="59.9" y="4.2" font-size="21.8px" font-style="italic">T</text>
<path transform="translate(76.75 0)" d="M7.7 -27.1Q-7.7 -8.1 7.7 10.9L8.5 10.3Q-3.6 -8.1 8.5 -26.5Z"/>
<text x="85.5" y="0" font-style="italic">p</text>
<text x="101.5" y="-13.2" font-size="21.8px">2</text>
<path transform="translate(125.35 0)" d="M-7.7 -27.1Q7.7 -8.1 -7.7 10.9L-8.5 10.3Q3.6 -8.1 -8.5 -26.5Z"/>
</g>
</g>
</svg>
</body></html>
